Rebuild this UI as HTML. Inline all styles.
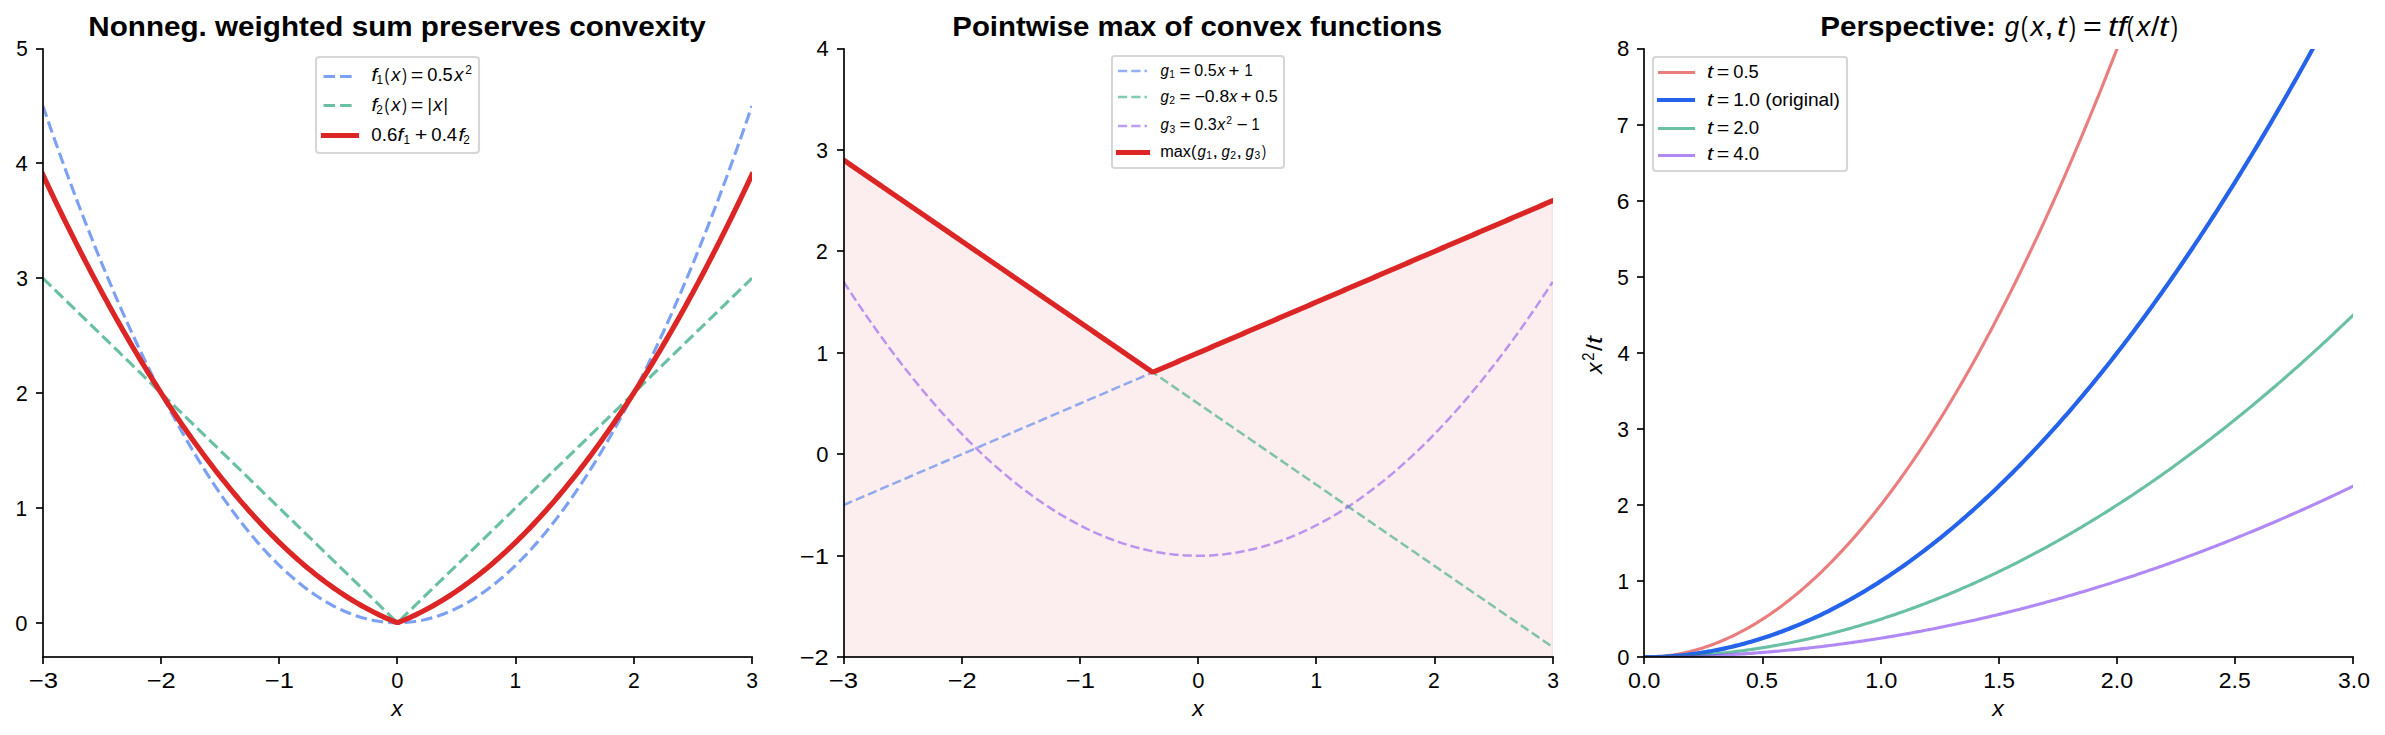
<!DOCTYPE html>
<html><head><meta charset="utf-8"><title>Operations that preserve convexity</title>
<style>
html,body{margin:0;padding:0;background:#ffffff;width:2385px;height:735px;overflow:hidden}
svg text{font-family:"Liberation Sans",sans-serif;fill:#000000}
svg path{stroke-linejoin:round}
</style>
</head><body>
<svg width="2385" height="735" viewBox="0 0 2385 735" style="display:block">
<defs><clipPath id="c0"><rect x="43" y="49" width="709" height="608"/></clipPath><clipPath id="c1"><rect x="844" y="49" width="709" height="608"/></clipPath><clipPath id="c2"><rect x="1644" y="49" width="709" height="608"/></clipPath></defs>
<rect width="2385" height="735" fill="#ffffff"/>
<path d="M43 657L43 664" fill="#000000" stroke="#000000" stroke-width="1.667"/>
<text x="28.76" y="688" font-size="22.292" textLength="29.23" lengthAdjust="spacingAndGlyphs">−3</text>
<path d="M161 657L161 664" fill="#000000" stroke="#000000" stroke-width="1.667"/>
<text x="146.77" y="688" font-size="22.292" textLength="28.95" lengthAdjust="spacingAndGlyphs">−2</text>
<path d="M279 657L279 664" fill="#000000" stroke="#000000" stroke-width="1.667"/>
<text x="264.76" y="688" font-size="22.292" textLength="29.08" lengthAdjust="spacingAndGlyphs">−1</text>
<path d="M397 657L397 664" fill="#000000" stroke="#000000" stroke-width="1.667"/>
<text x="391.14" y="688" font-size="22.292" textLength="12.21" lengthAdjust="spacingAndGlyphs">0</text>
<path d="M516 657L516 664" fill="#000000" stroke="#000000" stroke-width="1.667"/>
<text x="509.38" y="688" font-size="22.292" textLength="11.67" lengthAdjust="spacingAndGlyphs">1</text>
<path d="M634 657L634 664" fill="#000000" stroke="#000000" stroke-width="1.667"/>
<text x="627.96" y="688" font-size="22.292" textLength="11.77" lengthAdjust="spacingAndGlyphs">2</text>
<path d="M752 657L752 664" fill="#000000" stroke="#000000" stroke-width="1.667"/>
<text x="746.16" y="688" font-size="22.292" textLength="11.73" lengthAdjust="spacingAndGlyphs">3</text>
<g transform="translate(390 703)">
<text x="1.38" y="13" font-size="22.292" font-style="italic" textLength="11.45" lengthAdjust="spacingAndGlyphs">x</text>
</g>
<path d="M43 623L36 623" fill="#000000" stroke="#000000" stroke-width="1.667"/>
<text x="15.14" y="631" font-size="22.292" textLength="12.21" lengthAdjust="spacingAndGlyphs">0</text>
<path d="M43 508L36 508" fill="#000000" stroke="#000000" stroke-width="1.667"/>
<text x="15.38" y="516" font-size="22.292" textLength="11.67" lengthAdjust="spacingAndGlyphs">1</text>
<path d="M43 393L36 393" fill="#000000" stroke="#000000" stroke-width="1.667"/>
<text x="15.96" y="401" font-size="22.292" textLength="11.77" lengthAdjust="spacingAndGlyphs">2</text>
<path d="M43 278L36 278" fill="#000000" stroke="#000000" stroke-width="1.667"/>
<text x="16.16" y="286" font-size="22.292" textLength="11.73" lengthAdjust="spacingAndGlyphs">3</text>
<path d="M43 163L36 163" fill="#000000" stroke="#000000" stroke-width="1.667"/>
<text x="15.51" y="171" font-size="22.292" textLength="12.22" lengthAdjust="spacingAndGlyphs">4</text>
<path d="M43 49L36 49" fill="#000000" stroke="#000000" stroke-width="1.667"/>
<text x="16.15" y="56" font-size="22.292" textLength="11.53" lengthAdjust="spacingAndGlyphs">5</text>
<path d="M42.9 105.92L45.27 112.82L47.64 119.66L50.01 126.46L52.39 133.21L54.76 139.92L57.13 146.58L59.5 153.19L61.87 159.76L64.24 166.28L66.61 172.75L68.98 179.18L71.36 185.56L73.73 191.9L76.1 198.19L78.47 204.43L80.84 210.63L83.21 216.78L85.58 222.88L87.95 228.94L90.33 234.95L92.7 240.92L95.07 246.84L97.44 252.71L99.81 258.54L102.18 264.32L104.55 270.06L106.93 275.75L109.3 281.39L111.67 286.98L114.04 292.53L116.41 298.04L118.78 303.49L121.15 308.9L123.52 314.27L125.9 319.59L128.27 324.86L130.64 330.09L133.01 335.27L135.38 340.4L137.75 345.49L140.12 350.53L142.49 355.52L144.87 360.47L147.24 365.37L149.61 370.23L151.98 375.04L154.35 379.8L156.72 384.52L159.09 389.19L161.47 393.81L163.84 398.39L166.21 402.93L168.58 407.41L170.95 411.85L173.32 416.24L175.69 420.59L178.06 424.89L180.44 429.15L182.81 433.36L185.18 437.52L187.55 441.63L189.92 445.7L192.29 449.73L194.66 453.71L197.03 457.64L199.41 461.52L201.78 465.36L204.15 469.15L206.52 472.9L208.89 476.6L211.26 480.25L213.63 483.86L216.01 487.42L218.38 490.93L220.75 494.4L223.12 497.83L225.49 501.2L227.86 504.53L230.23 507.81L232.6 511.05L234.98 514.24L237.35 517.39L239.72 520.49L242.09 523.54L244.46 526.54L246.83 529.5L249.2 532.42L251.57 535.29L253.95 538.11L256.32 540.88L258.69 543.61L261.06 546.29L263.43 548.93L265.8 551.52L268.17 554.06L270.55 556.56L272.92 559.01L275.29 561.42L277.66 563.77L280.03 566.09L282.4 568.35L284.77 570.57L287.14 572.75L289.52 574.87L291.89 576.95L294.26 578.99L296.63 580.98L299 582.92L301.37 584.82L303.74 586.67L306.11 588.47L308.49 590.23L310.86 591.94L313.23 593.6L315.6 595.22L317.97 596.79L320.34 598.32L322.71 599.8L325.09 601.23L327.46 602.62L329.83 603.96L332.2 605.26L334.57 606.51L336.94 607.71L339.31 608.87L341.68 609.98L344.06 611.04L346.43 612.06L348.8 613.03L351.17 613.95L353.54 614.83L355.91 615.66L358.28 616.45L360.65 617.19L363.03 617.88L365.4 618.53L367.77 619.13L370.14 619.69L372.51 620.2L374.88 620.66L377.25 621.07L379.63 621.44L382 621.77L384.37 622.05L386.74 622.28L389.11 622.46L391.48 622.6L393.85 622.69L396.22 622.74L398.6 622.74L400.97 622.69L403.34 622.6L405.71 622.46L408.08 622.28L410.45 622.05L412.82 621.77L415.19 621.44L417.57 621.07L419.94 620.66L422.31 620.2L424.68 619.69L427.05 619.13L429.42 618.53L431.79 617.88L434.17 617.19L436.54 616.45L438.91 615.66L441.28 614.83L443.65 613.95L446.02 613.03L448.39 612.06L450.76 611.04L453.14 609.98L455.51 608.87L457.88 607.71L460.25 606.51L462.62 605.26L464.99 603.96L467.36 602.62L469.73 601.23L472.11 599.8L474.48 598.32L476.85 596.79L479.22 595.22L481.59 593.6L483.96 591.94L486.33 590.23L488.71 588.47L491.08 586.67L493.45 584.82L495.82 582.92L498.19 580.98L500.56 578.99L502.93 576.95L505.3 574.87L507.68 572.75L510.05 570.57L512.42 568.35L514.79 566.09L517.16 563.77L519.53 561.42L521.9 559.01L524.27 556.56L526.65 554.06L529.02 551.52L531.39 548.93L533.76 546.29L536.13 543.61L538.5 540.88L540.87 538.11L543.25 535.29L545.62 532.42L547.99 529.5L550.36 526.54L552.73 523.54L555.1 520.49L557.47 517.39L559.84 514.24L562.22 511.05L564.59 507.81L566.96 504.53L569.33 501.2L571.7 497.83L574.07 494.4L576.44 490.93L578.81 487.42L581.19 483.86L583.56 480.25L585.93 476.6L588.3 472.9L590.67 469.15L593.04 465.36L595.41 461.52L597.79 457.64L600.16 453.71L602.53 449.73L604.9 445.7L607.27 441.63L609.64 437.52L612.01 433.36L614.38 429.15L616.76 424.89L619.13 420.59L621.5 416.24L623.87 411.85L626.24 407.41L628.61 402.93L630.98 398.39L633.35 393.81L635.73 389.19L638.1 384.52L640.47 379.8L642.84 375.04L645.21 370.23L647.58 365.37L649.95 360.47L652.33 355.52L654.7 350.53L657.07 345.49L659.44 340.4L661.81 335.27L664.18 330.09L666.55 324.86L668.92 319.59L671.3 314.27L673.67 308.9L676.04 303.49L678.41 298.04L680.78 292.53L683.15 286.98L685.52 281.39L687.89 275.75L690.27 270.06L692.64 264.32L695.01 258.54L697.38 252.71L699.75 246.84L702.12 240.92L704.49 234.95L706.87 228.94L709.24 222.88L711.61 216.78L713.98 210.63L716.35 204.43L718.72 198.19L721.09 191.9L723.46 185.56L725.84 179.18L728.21 172.75L730.58 166.28L732.95 159.76L735.32 153.19L737.69 146.58L740.06 139.92L742.43 133.21L744.81 126.46L747.18 119.66L749.55 112.82L751.92 105.92" fill="none" stroke="#2563eb" stroke-opacity="0.6" stroke-width="3.125" stroke-dasharray="11.563,5" clip-path="url(#c0)"/>
<path d="M42.9 278.2L45.27 280.5L47.64 282.81L50.01 285.11L52.39 287.42L54.76 289.72L57.13 292.03L59.5 294.33L61.87 296.64L64.24 298.94L66.61 301.24L68.98 303.55L71.36 305.85L73.73 308.16L76.1 310.46L78.47 312.77L80.84 315.07L83.21 317.38L85.58 319.68L87.95 321.99L90.33 324.29L92.7 326.6L95.07 328.9L97.44 331.21L99.81 333.51L102.18 335.81L104.55 338.12L106.93 340.42L109.3 342.73L111.67 345.03L114.04 347.34L116.41 349.64L118.78 351.95L121.15 354.25L123.52 356.56L125.9 358.86L128.27 361.17L130.64 363.47L133.01 365.78L135.38 368.08L137.75 370.38L140.12 372.69L142.49 374.99L144.87 377.3L147.24 379.6L149.61 381.91L151.98 384.21L154.35 386.52L156.72 388.82L159.09 391.13L161.47 393.43L163.84 395.74L166.21 398.04L168.58 400.35L170.95 402.65L173.32 404.95L175.69 407.26L178.06 409.56L180.44 411.87L182.81 414.17L185.18 416.48L187.55 418.78L189.92 421.09L192.29 423.39L194.66 425.7L197.03 428L199.41 430.31L201.78 432.61L204.15 434.92L206.52 437.22L208.89 439.52L211.26 441.83L213.63 444.13L216.01 446.44L218.38 448.74L220.75 451.05L223.12 453.35L225.49 455.66L227.86 457.96L230.23 460.27L232.6 462.57L234.98 464.88L237.35 467.18L239.72 469.49L242.09 471.79L244.46 474.09L246.83 476.4L249.2 478.7L251.57 481.01L253.95 483.31L256.32 485.62L258.69 487.92L261.06 490.23L263.43 492.53L265.8 494.84L268.17 497.14L270.55 499.45L272.92 501.75L275.29 504.06L277.66 506.36L280.03 508.66L282.4 510.97L284.77 513.27L287.14 515.58L289.52 517.88L291.89 520.19L294.26 522.49L296.63 524.8L299 527.1L301.37 529.41L303.74 531.71L306.11 534.02L308.49 536.32L310.86 538.63L313.23 540.93L315.6 543.23L317.97 545.54L320.34 547.84L322.71 550.15L325.09 552.45L327.46 554.76L329.83 557.06L332.2 559.37L334.57 561.67L336.94 563.98L339.31 566.28L341.68 568.59L344.06 570.89L346.43 573.2L348.8 575.5L351.17 577.8L353.54 580.11L355.91 582.41L358.28 584.72L360.65 587.02L363.03 589.33L365.4 591.63L367.77 593.94L370.14 596.24L372.51 598.55L374.88 600.85L377.25 603.16L379.63 605.46L382 607.76L384.37 610.07L386.74 612.37L389.11 614.68L391.48 616.98L393.85 619.29L396.22 621.59L398.6 621.59L400.97 619.29L403.34 616.98L405.71 614.68L408.08 612.37L410.45 610.07L412.82 607.76L415.19 605.46L417.57 603.16L419.94 600.85L422.31 598.55L424.68 596.24L427.05 593.94L429.42 591.63L431.79 589.33L434.17 587.02L436.54 584.72L438.91 582.41L441.28 580.11L443.65 577.8L446.02 575.5L448.39 573.2L450.76 570.89L453.14 568.59L455.51 566.28L457.88 563.98L460.25 561.67L462.62 559.37L464.99 557.06L467.36 554.76L469.73 552.45L472.11 550.15L474.48 547.84L476.85 545.54L479.22 543.23L481.59 540.93L483.96 538.63L486.33 536.32L488.71 534.02L491.08 531.71L493.45 529.41L495.82 527.1L498.19 524.8L500.56 522.49L502.93 520.19L505.3 517.88L507.68 515.58L510.05 513.27L512.42 510.97L514.79 508.66L517.16 506.36L519.53 504.06L521.9 501.75L524.27 499.45L526.65 497.14L529.02 494.84L531.39 492.53L533.76 490.23L536.13 487.92L538.5 485.62L540.87 483.31L543.25 481.01L545.62 478.7L547.99 476.4L550.36 474.09L552.73 471.79L555.1 469.49L557.47 467.18L559.84 464.88L562.22 462.57L564.59 460.27L566.96 457.96L569.33 455.66L571.7 453.35L574.07 451.05L576.44 448.74L578.81 446.44L581.19 444.13L583.56 441.83L585.93 439.52L588.3 437.22L590.67 434.92L593.04 432.61L595.41 430.31L597.79 428L600.16 425.7L602.53 423.39L604.9 421.09L607.27 418.78L609.64 416.48L612.01 414.17L614.38 411.87L616.76 409.56L619.13 407.26L621.5 404.95L623.87 402.65L626.24 400.35L628.61 398.04L630.98 395.74L633.35 393.43L635.73 391.13L638.1 388.82L640.47 386.52L642.84 384.21L645.21 381.91L647.58 379.6L649.95 377.3L652.33 374.99L654.7 372.69L657.07 370.38L659.44 368.08L661.81 365.78L664.18 363.47L666.55 361.17L668.92 358.86L671.3 356.56L673.67 354.25L676.04 351.95L678.41 349.64L680.78 347.34L683.15 345.03L685.52 342.73L687.89 340.42L690.27 338.12L692.64 335.81L695.01 333.51L697.38 331.21L699.75 328.9L702.12 326.6L704.49 324.29L706.87 321.99L709.24 319.68L711.61 317.38L713.98 315.07L716.35 312.77L718.72 310.46L721.09 308.16L723.46 305.85L725.84 303.55L728.21 301.24L730.58 298.94L732.95 296.64L735.32 294.33L737.69 292.03L740.06 289.72L742.43 287.42L744.81 285.11L747.18 282.81L749.55 280.5L751.92 278.2" fill="none" stroke="#059669" stroke-opacity="0.6" stroke-width="3.125" stroke-dasharray="11.563,5" clip-path="url(#c0)"/>
<path d="M42.9 174.83L45.27 179.89L47.64 184.92L50.01 189.92L52.39 194.89L54.76 199.84L57.13 204.76L59.5 209.65L61.87 214.51L64.24 219.34L66.61 224.15L68.98 228.93L71.36 233.68L73.73 238.4L76.1 243.1L78.47 247.77L80.84 252.41L83.21 257.02L85.58 261.6L87.95 266.16L90.33 270.69L92.7 275.19L95.07 279.66L97.44 284.11L99.81 288.53L102.18 292.92L104.55 297.28L106.93 301.62L109.3 305.92L111.67 310.2L114.04 314.45L116.41 318.68L118.78 322.88L121.15 327.04L123.52 331.18L125.9 335.3L128.27 339.38L130.64 343.44L133.01 347.47L135.38 351.47L137.75 355.45L140.12 359.39L142.49 363.31L144.87 367.2L147.24 371.06L149.61 374.9L151.98 378.71L154.35 382.49L156.72 386.24L159.09 389.96L161.47 393.66L163.84 397.33L166.21 400.97L168.58 404.59L170.95 408.17L173.32 411.73L175.69 415.26L178.06 418.76L180.44 422.24L182.81 425.68L185.18 429.1L187.55 432.49L189.92 435.86L192.29 439.19L194.66 442.5L197.03 445.78L199.41 449.03L201.78 452.26L204.15 455.46L206.52 458.63L208.89 461.77L211.26 464.88L213.63 467.97L216.01 471.03L218.38 474.06L220.75 477.06L223.12 480.04L225.49 482.98L227.86 485.9L230.23 488.8L232.6 491.66L234.98 494.5L237.35 497.3L239.72 500.09L242.09 502.84L244.46 505.56L246.83 508.26L249.2 510.93L251.57 513.57L253.95 516.19L256.32 518.78L258.69 521.34L261.06 523.87L263.43 526.37L265.8 528.85L268.17 531.29L270.55 533.71L272.92 536.11L275.29 538.47L277.66 540.81L280.03 543.12L282.4 545.4L284.77 547.65L287.14 549.88L289.52 552.08L291.89 554.25L294.26 556.39L296.63 558.51L299 560.59L301.37 562.65L303.74 564.68L306.11 566.69L308.49 568.66L310.86 570.61L313.23 572.53L315.6 574.43L317.97 576.29L320.34 578.13L322.71 579.94L325.09 581.72L327.46 583.48L329.83 585.2L332.2 586.9L334.57 588.57L336.94 590.22L339.31 591.83L341.68 593.42L344.06 594.98L346.43 596.51L348.8 598.02L351.17 599.49L353.54 600.94L355.91 602.36L358.28 603.76L360.65 605.12L363.03 606.46L365.4 607.77L367.77 609.05L370.14 610.31L372.51 611.54L374.88 612.74L377.25 613.91L379.63 615.05L382 616.17L384.37 617.26L386.74 618.32L389.11 619.35L391.48 620.35L393.85 621.33L396.22 622.28L398.6 622.28L400.97 621.33L403.34 620.35L405.71 619.35L408.08 618.32L410.45 617.26L412.82 616.17L415.19 615.05L417.57 613.91L419.94 612.74L422.31 611.54L424.68 610.31L427.05 609.05L429.42 607.77L431.79 606.46L434.17 605.12L436.54 603.76L438.91 602.36L441.28 600.94L443.65 599.49L446.02 598.02L448.39 596.51L450.76 594.98L453.14 593.42L455.51 591.83L457.88 590.22L460.25 588.57L462.62 586.9L464.99 585.2L467.36 583.48L469.73 581.72L472.11 579.94L474.48 578.13L476.85 576.29L479.22 574.43L481.59 572.53L483.96 570.61L486.33 568.66L488.71 566.69L491.08 564.68L493.45 562.65L495.82 560.59L498.19 558.51L500.56 556.39L502.93 554.25L505.3 552.08L507.68 549.88L510.05 547.65L512.42 545.4L514.79 543.12L517.16 540.81L519.53 538.47L521.9 536.11L524.27 533.71L526.65 531.29L529.02 528.85L531.39 526.37L533.76 523.87L536.13 521.34L538.5 518.78L540.87 516.19L543.25 513.57L545.62 510.93L547.99 508.26L550.36 505.56L552.73 502.84L555.1 500.09L557.47 497.3L559.84 494.5L562.22 491.66L564.59 488.8L566.96 485.9L569.33 482.98L571.7 480.04L574.07 477.06L576.44 474.06L578.81 471.03L581.19 467.97L583.56 464.88L585.93 461.77L588.3 458.63L590.67 455.46L593.04 452.26L595.41 449.03L597.79 445.78L600.16 442.5L602.53 439.19L604.9 435.86L607.27 432.49L609.64 429.1L612.01 425.68L614.38 422.24L616.76 418.76L619.13 415.26L621.5 411.73L623.87 408.17L626.24 404.59L628.61 400.97L630.98 397.33L633.35 393.66L635.73 389.96L638.1 386.24L640.47 382.49L642.84 378.71L645.21 374.9L647.58 371.06L649.95 367.2L652.33 363.31L654.7 359.39L657.07 355.45L659.44 351.47L661.81 347.47L664.18 343.44L666.55 339.38L668.92 335.3L671.3 331.18L673.67 327.04L676.04 322.88L678.41 318.68L680.78 314.45L683.15 310.2L685.52 305.92L687.89 301.62L690.27 297.28L692.64 292.92L695.01 288.53L697.38 284.11L699.75 279.66L702.12 275.19L704.49 270.69L706.87 266.16L709.24 261.6L711.61 257.02L713.98 252.41L716.35 247.77L718.72 243.1L721.09 238.4L723.46 233.68L725.84 228.93L728.21 224.15L730.58 219.34L732.95 214.51L735.32 209.65L737.69 204.76L740.06 199.84L742.43 194.89L744.81 189.92L747.18 184.92L749.55 179.89L751.92 174.83" fill="none" stroke="#dc2626" stroke-width="5.208" stroke-linecap="square" clip-path="url(#c0)"/>
<rect x="42.167" y="48.167" width="1.667" height="609.667" fill="#000000"/>
<rect x="42.167" y="656.167" width="710.667" height="1.667" fill="#000000"/>
<text x="88.31" y="36" font-size="26.75" font-weight="bold" textLength="617.56" lengthAdjust="spacingAndGlyphs">Nonneg. weighted sum preserves convexity</text>
<path d="M320 153L475 153Q479 153 479 150L479 60Q479 57 475 57L320 57Q316 57 316 60L316 150Q316 153 320 153Z" fill="#ffffff" fill-opacity="0.8" stroke="#cccccc" stroke-opacity="0.8" stroke-width="2.083" stroke-linejoin="miter"/>
<path d="M323.5 76.5L340.5 76.5L356.5 76.5" fill="none" stroke="#2563eb" stroke-opacity="0.6" stroke-width="3.125" stroke-dasharray="11.563,5"/>
<g transform="translate(370 64)">
<text x="1.43" y="17" font-size="17.833" font-style="italic" textLength="5.75" lengthAdjust="spacingAndGlyphs">f</text>
<text x="6.39" y="20" font-size="12.483" textLength="6.53" lengthAdjust="spacingAndGlyphs">1</text>
<text x="14.56" y="17" font-size="17.833" textLength="4.69" lengthAdjust="spacingAndGlyphs">(</text>
<text x="21.3" y="17" font-size="17.833" font-style="italic" textLength="9.16" lengthAdjust="spacingAndGlyphs">x</text>
<text x="32.25" y="17" font-size="17.833" textLength="4.69" lengthAdjust="spacingAndGlyphs">)</text>
<text x="40.72" y="17" font-size="17.833" textLength="12.54" lengthAdjust="spacingAndGlyphs">=</text>
<text x="57.38" y="17" font-size="17.833" textLength="25.43" lengthAdjust="spacingAndGlyphs">0.5</text>
<text x="84.3" y="17" font-size="17.833" font-style="italic" textLength="9.16" lengthAdjust="spacingAndGlyphs">x</text>
<text x="95.26" y="10" font-size="12.483" textLength="6.59" lengthAdjust="spacingAndGlyphs">2</text>
</g>
<path d="M323.5 105.5L340.5 105.5L356.5 105.5" fill="none" stroke="#059669" stroke-opacity="0.6" stroke-width="3.125" stroke-dasharray="11.563,5"/>
<g transform="translate(370 96)">
<text x="1.43" y="15" font-size="17.833" font-style="italic" textLength="5.75" lengthAdjust="spacingAndGlyphs">f</text>
<text x="6.26" y="18" font-size="12.483" textLength="6.59" lengthAdjust="spacingAndGlyphs">2</text>
<text x="14.56" y="15" font-size="17.833" textLength="4.69" lengthAdjust="spacingAndGlyphs">(</text>
<text x="21.3" y="15" font-size="17.833" font-style="italic" textLength="9.16" lengthAdjust="spacingAndGlyphs">x</text>
<text x="32.25" y="15" font-size="17.833" textLength="4.69" lengthAdjust="spacingAndGlyphs">)</text>
<text x="40.72" y="15" font-size="17.833" textLength="12.54" lengthAdjust="spacingAndGlyphs">=</text>
<text x="57.59" y="15" font-size="17.833" textLength="4.43" lengthAdjust="spacingAndGlyphs">|</text>
<text x="63.3" y="15" font-size="17.833" font-style="italic" textLength="9.16" lengthAdjust="spacingAndGlyphs">x</text>
<text x="73.59" y="15" font-size="17.833" textLength="4.43" lengthAdjust="spacingAndGlyphs">|</text>
</g>
<path d="M323.5 135.5L340.5 135.5L356.5 135.5" fill="none" stroke="#dc2626" stroke-width="5.208" stroke-linecap="square"/>
<g transform="translate(370 126)">
<text x="1.37" y="15" font-size="17.833" textLength="25.9" lengthAdjust="spacingAndGlyphs">0.6</text>
<text x="27.43" y="15" font-size="17.833" font-style="italic" textLength="5.75" lengthAdjust="spacingAndGlyphs">f</text>
<text x="33.39" y="18" font-size="12.483" textLength="6.53" lengthAdjust="spacingAndGlyphs">1</text>
<text x="44.72" y="15" font-size="17.833" textLength="12.54" lengthAdjust="spacingAndGlyphs">+</text>
<text x="61.38" y="15" font-size="17.833" textLength="25.74" lengthAdjust="spacingAndGlyphs">0.4</text>
<text x="88.43" y="15" font-size="17.833" font-style="italic" textLength="5.75" lengthAdjust="spacingAndGlyphs">f</text>
<text x="93.26" y="18" font-size="12.483" textLength="6.59" lengthAdjust="spacingAndGlyphs">2</text>
</g>
<path d="M843.67 657.2L843.67 160.1L846.05 161.72L848.42 163.35L850.79 164.98L853.16 166.61L855.53 168.24L857.9 169.87L860.27 171.5L862.65 173.12L865.02 174.75L867.39 176.38L869.76 178.01L872.13 179.64L874.5 181.27L876.87 182.9L879.24 184.52L881.62 186.15L883.99 187.78L886.36 189.41L888.73 191.04L891.1 192.67L893.47 194.3L895.84 195.92L898.21 197.55L900.59 199.18L902.96 200.81L905.33 202.44L907.7 204.07L910.07 205.7L912.44 207.33L914.81 208.95L917.19 210.58L919.56 212.21L921.93 213.84L924.3 215.47L926.67 217.1L929.04 218.73L931.41 220.35L933.78 221.98L936.16 223.61L938.53 225.24L940.9 226.87L943.27 228.5L945.64 230.13L948.01 231.75L950.38 233.38L952.75 235.01L955.13 236.64L957.5 238.27L959.87 239.9L962.24 241.53L964.61 243.16L966.98 244.78L969.35 246.41L971.73 248.04L974.1 249.67L976.47 251.3L978.84 252.93L981.21 254.56L983.58 256.18L985.95 257.81L988.32 259.44L990.7 261.07L993.07 262.7L995.44 264.33L997.81 265.96L1000.18 267.58L1002.55 269.21L1004.92 270.84L1007.29 272.47L1009.67 274.1L1012.04 275.73L1014.41 277.36L1016.78 278.98L1019.15 280.61L1021.52 282.24L1023.89 283.87L1026.27 285.5L1028.64 287.13L1031.01 288.76L1033.38 290.39L1035.75 292.01L1038.12 293.64L1040.49 295.27L1042.86 296.9L1045.24 298.53L1047.61 300.16L1049.98 301.79L1052.35 303.41L1054.72 305.04L1057.09 306.67L1059.46 308.3L1061.84 309.93L1064.21 311.56L1066.58 313.19L1068.95 314.81L1071.32 316.44L1073.69 318.07L1076.06 319.7L1078.43 321.33L1080.81 322.96L1083.18 324.59L1085.55 326.22L1087.92 327.84L1090.29 329.47L1092.66 331.1L1095.03 332.73L1097.4 334.36L1099.78 335.99L1102.15 337.62L1104.52 339.24L1106.89 340.87L1109.26 342.5L1111.63 344.13L1114 345.76L1116.38 347.39L1118.75 349.02L1121.12 350.64L1123.49 352.27L1125.86 353.9L1128.23 355.53L1130.6 357.16L1132.97 358.79L1135.35 360.42L1137.72 362.04L1140.09 363.67L1142.46 365.3L1144.83 366.93L1147.2 368.56L1149.57 370.19L1151.94 371.82L1154.32 371.68L1156.69 370.66L1159.06 369.65L1161.43 368.63L1163.8 367.61L1166.17 366.59L1168.54 365.57L1170.91 364.56L1173.29 363.54L1175.66 362.52L1178.03 361.5L1180.4 360.48L1182.77 359.47L1185.14 358.45L1187.51 357.43L1189.89 356.41L1192.26 355.39L1194.63 354.38L1197 353.36L1199.37 352.34L1201.74 351.32L1204.11 350.31L1206.48 349.29L1208.86 348.27L1211.23 347.25L1213.6 346.23L1215.97 345.22L1218.34 344.2L1220.71 343.18L1223.08 342.16L1225.45 341.14L1227.83 340.13L1230.2 339.11L1232.57 338.09L1234.94 337.07L1237.31 336.05L1239.68 335.04L1242.05 334.02L1244.43 333L1246.8 331.98L1249.17 330.97L1251.54 329.95L1253.91 328.93L1256.28 327.91L1258.65 326.89L1261.02 325.88L1263.4 324.86L1265.77 323.84L1268.14 322.82L1270.51 321.8L1272.88 320.79L1275.25 319.77L1277.62 318.75L1279.99 317.73L1282.37 316.71L1284.74 315.7L1287.11 314.68L1289.48 313.66L1291.85 312.64L1294.22 311.63L1296.59 310.61L1298.97 309.59L1301.34 308.57L1303.71 307.55L1306.08 306.54L1308.45 305.52L1310.82 304.5L1313.19 303.48L1315.56 302.46L1317.94 301.45L1320.31 300.43L1322.68 299.41L1325.05 298.39L1327.42 297.37L1329.79 296.36L1332.16 295.34L1334.53 294.32L1336.91 293.3L1339.28 292.29L1341.65 291.27L1344.02 290.25L1346.39 289.23L1348.76 288.21L1351.13 287.2L1353.51 286.18L1355.88 285.16L1358.25 284.14L1360.62 283.12L1362.99 282.11L1365.36 281.09L1367.73 280.07L1370.1 279.05L1372.48 278.03L1374.85 277.02L1377.22 276L1379.59 274.98L1381.96 273.96L1384.33 272.95L1386.7 271.93L1389.08 270.91L1391.45 269.89L1393.82 268.87L1396.19 267.86L1398.56 266.84L1400.93 265.82L1403.3 264.8L1405.67 263.78L1408.05 262.77L1410.42 261.75L1412.79 260.73L1415.16 259.71L1417.53 258.69L1419.9 257.68L1422.27 256.66L1424.64 255.64L1427.02 254.62L1429.39 253.61L1431.76 252.59L1434.13 251.57L1436.5 250.55L1438.87 249.53L1441.24 248.52L1443.61 247.5L1445.99 246.48L1448.36 245.46L1450.73 244.44L1453.1 243.43L1455.47 242.41L1457.84 241.39L1460.21 240.37L1462.59 239.35L1464.96 238.34L1467.33 237.32L1469.7 236.3L1472.07 235.28L1474.44 234.27L1476.81 233.25L1479.18 232.23L1481.56 231.21L1483.93 230.19L1486.3 229.18L1488.67 228.16L1491.04 227.14L1493.41 226.12L1495.78 225.1L1498.15 224.09L1500.53 223.07L1502.9 222.05L1505.27 221.03L1507.64 220.01L1510.01 219L1512.38 217.98L1514.75 216.96L1517.13 215.94L1519.5 214.93L1521.87 213.91L1524.24 212.89L1526.61 211.87L1528.98 210.85L1531.35 209.84L1533.72 208.82L1536.1 207.8L1538.47 206.78L1540.84 205.76L1543.21 204.75L1545.58 203.73L1547.95 202.71L1550.32 201.69L1552.69 200.68L1552.69 657.2L1552.69 657.2L1550.32 657.2L1547.95 657.2L1545.58 657.2L1543.21 657.2L1540.84 657.2L1538.47 657.2L1536.1 657.2L1533.72 657.2L1531.35 657.2L1528.98 657.2L1526.61 657.2L1524.24 657.2L1521.87 657.2L1519.5 657.2L1517.13 657.2L1514.75 657.2L1512.38 657.2L1510.01 657.2L1507.64 657.2L1505.27 657.2L1502.9 657.2L1500.53 657.2L1498.15 657.2L1495.78 657.2L1493.41 657.2L1491.04 657.2L1488.67 657.2L1486.3 657.2L1483.93 657.2L1481.56 657.2L1479.18 657.2L1476.81 657.2L1474.44 657.2L1472.07 657.2L1469.7 657.2L1467.33 657.2L1464.96 657.2L1462.59 657.2L1460.21 657.2L1457.84 657.2L1455.47 657.2L1453.1 657.2L1450.73 657.2L1448.36 657.2L1445.99 657.2L1443.61 657.2L1441.24 657.2L1438.87 657.2L1436.5 657.2L1434.13 657.2L1431.76 657.2L1429.39 657.2L1427.02 657.2L1424.64 657.2L1422.27 657.2L1419.9 657.2L1417.53 657.2L1415.16 657.2L1412.79 657.2L1410.42 657.2L1408.05 657.2L1405.67 657.2L1403.3 657.2L1400.93 657.2L1398.56 657.2L1396.19 657.2L1393.82 657.2L1391.45 657.2L1389.08 657.2L1386.7 657.2L1384.33 657.2L1381.96 657.2L1379.59 657.2L1377.22 657.2L1374.85 657.2L1372.48 657.2L1370.1 657.2L1367.73 657.2L1365.36 657.2L1362.99 657.2L1360.62 657.2L1358.25 657.2L1355.88 657.2L1353.51 657.2L1351.13 657.2L1348.76 657.2L1346.39 657.2L1344.02 657.2L1341.65 657.2L1339.28 657.2L1336.91 657.2L1334.53 657.2L1332.16 657.2L1329.79 657.2L1327.42 657.2L1325.05 657.2L1322.68 657.2L1320.31 657.2L1317.94 657.2L1315.56 657.2L1313.19 657.2L1310.82 657.2L1308.45 657.2L1306.08 657.2L1303.71 657.2L1301.34 657.2L1298.97 657.2L1296.59 657.2L1294.22 657.2L1291.85 657.2L1289.48 657.2L1287.11 657.2L1284.74 657.2L1282.37 657.2L1279.99 657.2L1277.62 657.2L1275.25 657.2L1272.88 657.2L1270.51 657.2L1268.14 657.2L1265.77 657.2L1263.4 657.2L1261.02 657.2L1258.65 657.2L1256.28 657.2L1253.91 657.2L1251.54 657.2L1249.17 657.2L1246.8 657.2L1244.43 657.2L1242.05 657.2L1239.68 657.2L1237.31 657.2L1234.94 657.2L1232.57 657.2L1230.2 657.2L1227.83 657.2L1225.45 657.2L1223.08 657.2L1220.71 657.2L1218.34 657.2L1215.97 657.2L1213.6 657.2L1211.23 657.2L1208.86 657.2L1206.48 657.2L1204.11 657.2L1201.74 657.2L1199.37 657.2L1197 657.2L1194.63 657.2L1192.26 657.2L1189.89 657.2L1187.51 657.2L1185.14 657.2L1182.77 657.2L1180.4 657.2L1178.03 657.2L1175.66 657.2L1173.29 657.2L1170.91 657.2L1168.54 657.2L1166.17 657.2L1163.8 657.2L1161.43 657.2L1159.06 657.2L1156.69 657.2L1154.32 657.2L1151.94 657.2L1149.57 657.2L1147.2 657.2L1144.83 657.2L1142.46 657.2L1140.09 657.2L1137.72 657.2L1135.35 657.2L1132.97 657.2L1130.6 657.2L1128.23 657.2L1125.86 657.2L1123.49 657.2L1121.12 657.2L1118.75 657.2L1116.38 657.2L1114 657.2L1111.63 657.2L1109.26 657.2L1106.89 657.2L1104.52 657.2L1102.15 657.2L1099.78 657.2L1097.4 657.2L1095.03 657.2L1092.66 657.2L1090.29 657.2L1087.92 657.2L1085.55 657.2L1083.18 657.2L1080.81 657.2L1078.43 657.2L1076.06 657.2L1073.69 657.2L1071.32 657.2L1068.95 657.2L1066.58 657.2L1064.21 657.2L1061.84 657.2L1059.46 657.2L1057.09 657.2L1054.72 657.2L1052.35 657.2L1049.98 657.2L1047.61 657.2L1045.24 657.2L1042.86 657.2L1040.49 657.2L1038.12 657.2L1035.75 657.2L1033.38 657.2L1031.01 657.2L1028.64 657.2L1026.27 657.2L1023.89 657.2L1021.52 657.2L1019.15 657.2L1016.78 657.2L1014.41 657.2L1012.04 657.2L1009.67 657.2L1007.29 657.2L1004.92 657.2L1002.55 657.2L1000.18 657.2L997.81 657.2L995.44 657.2L993.07 657.2L990.7 657.2L988.32 657.2L985.95 657.2L983.58 657.2L981.21 657.2L978.84 657.2L976.47 657.2L974.1 657.2L971.73 657.2L969.35 657.2L966.98 657.2L964.61 657.2L962.24 657.2L959.87 657.2L957.5 657.2L955.13 657.2L952.75 657.2L950.38 657.2L948.01 657.2L945.64 657.2L943.27 657.2L940.9 657.2L938.53 657.2L936.16 657.2L933.78 657.2L931.41 657.2L929.04 657.2L926.67 657.2L924.3 657.2L921.93 657.2L919.56 657.2L917.19 657.2L914.81 657.2L912.44 657.2L910.07 657.2L907.7 657.2L905.33 657.2L902.96 657.2L900.59 657.2L898.21 657.2L895.84 657.2L893.47 657.2L891.1 657.2L888.73 657.2L886.36 657.2L883.99 657.2L881.62 657.2L879.24 657.2L876.87 657.2L874.5 657.2L872.13 657.2L869.76 657.2L867.39 657.2L865.02 657.2L862.65 657.2L860.27 657.2L857.9 657.2L855.53 657.2L853.16 657.2L850.79 657.2L848.42 657.2L846.05 657.2L843.67 657.2L843.67 657.2Z" fill="#dc2626" fill-opacity="0.08" stroke="#dc2626" stroke-opacity="0.08" stroke-width="2.083" clip-path="url(#c1)"/>
<path d="M844 657L844 664" fill="#000000" stroke="#000000" stroke-width="1.667"/>
<text x="828.76" y="688" font-size="22.292" textLength="29.23" lengthAdjust="spacingAndGlyphs">−3</text>
<path d="M962 657L962 664" fill="#000000" stroke="#000000" stroke-width="1.667"/>
<text x="947.77" y="688" font-size="22.292" textLength="28.95" lengthAdjust="spacingAndGlyphs">−2</text>
<path d="M1080 657L1080 664" fill="#000000" stroke="#000000" stroke-width="1.667"/>
<text x="1065.76" y="688" font-size="22.292" textLength="29.08" lengthAdjust="spacingAndGlyphs">−1</text>
<path d="M1198 657L1198 664" fill="#000000" stroke="#000000" stroke-width="1.667"/>
<text x="1192.14" y="688" font-size="22.292" textLength="12.21" lengthAdjust="spacingAndGlyphs">0</text>
<path d="M1316 657L1316 664" fill="#000000" stroke="#000000" stroke-width="1.667"/>
<text x="1310.38" y="688" font-size="22.292" textLength="11.67" lengthAdjust="spacingAndGlyphs">1</text>
<path d="M1435 657L1435 664" fill="#000000" stroke="#000000" stroke-width="1.667"/>
<text x="1427.96" y="688" font-size="22.292" textLength="11.77" lengthAdjust="spacingAndGlyphs">2</text>
<path d="M1553 657L1553 664" fill="#000000" stroke="#000000" stroke-width="1.667"/>
<text x="1547.16" y="688" font-size="22.292" textLength="11.73" lengthAdjust="spacingAndGlyphs">3</text>
<g transform="translate(1191 703)">
<text x="1.38" y="13" font-size="22.292" font-style="italic" textLength="11.45" lengthAdjust="spacingAndGlyphs">x</text>
</g>
<path d="M844 657L837 657" fill="#000000" stroke="#000000" stroke-width="1.667"/>
<text x="799.77" y="665" font-size="22.292" textLength="28.95" lengthAdjust="spacingAndGlyphs">−2</text>
<path d="M844 556L837 556" fill="#000000" stroke="#000000" stroke-width="1.667"/>
<text x="799.76" y="564" font-size="22.292" textLength="29.08" lengthAdjust="spacingAndGlyphs">−1</text>
<path d="M844 454L837 454" fill="#000000" stroke="#000000" stroke-width="1.667"/>
<text x="816.14" y="462" font-size="22.292" textLength="12.21" lengthAdjust="spacingAndGlyphs">0</text>
<path d="M844 353L837 353" fill="#000000" stroke="#000000" stroke-width="1.667"/>
<text x="816.38" y="361" font-size="22.292" textLength="11.67" lengthAdjust="spacingAndGlyphs">1</text>
<path d="M844 251L837 251" fill="#000000" stroke="#000000" stroke-width="1.667"/>
<text x="815.96" y="259" font-size="22.292" textLength="11.77" lengthAdjust="spacingAndGlyphs">2</text>
<path d="M844 150L837 150" fill="#000000" stroke="#000000" stroke-width="1.667"/>
<text x="816.16" y="158" font-size="22.292" textLength="11.73" lengthAdjust="spacingAndGlyphs">3</text>
<path d="M844 49L837 49" fill="#000000" stroke="#000000" stroke-width="1.667"/>
<text x="816.51" y="56" font-size="22.292" textLength="12.22" lengthAdjust="spacingAndGlyphs">4</text>
<path d="M843.67 505.03L846.05 504.01L848.42 502.99L850.79 501.97L853.16 500.95L855.53 499.94L857.9 498.92L860.27 497.9L862.65 496.88L865.02 495.86L867.39 494.85L869.76 493.83L872.13 492.81L874.5 491.79L876.87 490.77L879.24 489.76L881.62 488.74L883.99 487.72L886.36 486.7L888.73 485.69L891.1 484.67L893.47 483.65L895.84 482.63L898.21 481.61L900.59 480.6L902.96 479.58L905.33 478.56L907.7 477.54L910.07 476.52L912.44 475.51L914.81 474.49L917.19 473.47L919.56 472.45L921.93 471.43L924.3 470.42L926.67 469.4L929.04 468.38L931.41 467.36L933.78 466.35L936.16 465.33L938.53 464.31L940.9 463.29L943.27 462.27L945.64 461.26L948.01 460.24L950.38 459.22L952.75 458.2L955.13 457.18L957.5 456.17L959.87 455.15L962.24 454.13L964.61 453.11L966.98 452.09L969.35 451.08L971.73 450.06L974.1 449.04L976.47 448.02L978.84 447.01L981.21 445.99L983.58 444.97L985.95 443.95L988.32 442.93L990.7 441.92L993.07 440.9L995.44 439.88L997.81 438.86L1000.18 437.84L1002.55 436.83L1004.92 435.81L1007.29 434.79L1009.67 433.77L1012.04 432.75L1014.41 431.74L1016.78 430.72L1019.15 429.7L1021.52 428.68L1023.89 427.67L1026.27 426.65L1028.64 425.63L1031.01 424.61L1033.38 423.59L1035.75 422.58L1038.12 421.56L1040.49 420.54L1042.86 419.52L1045.24 418.5L1047.61 417.49L1049.98 416.47L1052.35 415.45L1054.72 414.43L1057.09 413.41L1059.46 412.4L1061.84 411.38L1064.21 410.36L1066.58 409.34L1068.95 408.33L1071.32 407.31L1073.69 406.29L1076.06 405.27L1078.43 404.25L1080.81 403.24L1083.18 402.22L1085.55 401.2L1087.92 400.18L1090.29 399.16L1092.66 398.15L1095.03 397.13L1097.4 396.11L1099.78 395.09L1102.15 394.07L1104.52 393.06L1106.89 392.04L1109.26 391.02L1111.63 390L1114 388.99L1116.38 387.97L1118.75 386.95L1121.12 385.93L1123.49 384.91L1125.86 383.9L1128.23 382.88L1130.6 381.86L1132.97 380.84L1135.35 379.82L1137.72 378.81L1140.09 377.79L1142.46 376.77L1144.83 375.75L1147.2 374.73L1149.57 373.72L1151.94 372.7L1154.32 371.68L1156.69 370.66L1159.06 369.65L1161.43 368.63L1163.8 367.61L1166.17 366.59L1168.54 365.57L1170.91 364.56L1173.29 363.54L1175.66 362.52L1178.03 361.5L1180.4 360.48L1182.77 359.47L1185.14 358.45L1187.51 357.43L1189.89 356.41L1192.26 355.39L1194.63 354.38L1197 353.36L1199.37 352.34L1201.74 351.32L1204.11 350.31L1206.48 349.29L1208.86 348.27L1211.23 347.25L1213.6 346.23L1215.97 345.22L1218.34 344.2L1220.71 343.18L1223.08 342.16L1225.45 341.14L1227.83 340.13L1230.2 339.11L1232.57 338.09L1234.94 337.07L1237.31 336.05L1239.68 335.04L1242.05 334.02L1244.43 333L1246.8 331.98L1249.17 330.97L1251.54 329.95L1253.91 328.93L1256.28 327.91L1258.65 326.89L1261.02 325.88L1263.4 324.86L1265.77 323.84L1268.14 322.82L1270.51 321.8L1272.88 320.79L1275.25 319.77L1277.62 318.75L1279.99 317.73L1282.37 316.71L1284.74 315.7L1287.11 314.68L1289.48 313.66L1291.85 312.64L1294.22 311.63L1296.59 310.61L1298.97 309.59L1301.34 308.57L1303.71 307.55L1306.08 306.54L1308.45 305.52L1310.82 304.5L1313.19 303.48L1315.56 302.46L1317.94 301.45L1320.31 300.43L1322.68 299.41L1325.05 298.39L1327.42 297.37L1329.79 296.36L1332.16 295.34L1334.53 294.32L1336.91 293.3L1339.28 292.29L1341.65 291.27L1344.02 290.25L1346.39 289.23L1348.76 288.21L1351.13 287.2L1353.51 286.18L1355.88 285.16L1358.25 284.14L1360.62 283.12L1362.99 282.11L1365.36 281.09L1367.73 280.07L1370.1 279.05L1372.48 278.03L1374.85 277.02L1377.22 276L1379.59 274.98L1381.96 273.96L1384.33 272.95L1386.7 271.93L1389.08 270.91L1391.45 269.89L1393.82 268.87L1396.19 267.86L1398.56 266.84L1400.93 265.82L1403.3 264.8L1405.67 263.78L1408.05 262.77L1410.42 261.75L1412.79 260.73L1415.16 259.71L1417.53 258.69L1419.9 257.68L1422.27 256.66L1424.64 255.64L1427.02 254.62L1429.39 253.61L1431.76 252.59L1434.13 251.57L1436.5 250.55L1438.87 249.53L1441.24 248.52L1443.61 247.5L1445.99 246.48L1448.36 245.46L1450.73 244.44L1453.1 243.43L1455.47 242.41L1457.84 241.39L1460.21 240.37L1462.59 239.35L1464.96 238.34L1467.33 237.32L1469.7 236.3L1472.07 235.28L1474.44 234.27L1476.81 233.25L1479.18 232.23L1481.56 231.21L1483.93 230.19L1486.3 229.18L1488.67 228.16L1491.04 227.14L1493.41 226.12L1495.78 225.1L1498.15 224.09L1500.53 223.07L1502.9 222.05L1505.27 221.03L1507.64 220.01L1510.01 219L1512.38 217.98L1514.75 216.96L1517.13 215.94L1519.5 214.93L1521.87 213.91L1524.24 212.89L1526.61 211.87L1528.98 210.85L1531.35 209.84L1533.72 208.82L1536.1 207.8L1538.47 206.78L1540.84 205.76L1543.21 204.75L1545.58 203.73L1547.95 202.71L1550.32 201.69L1552.69 200.68" fill="none" stroke="#2563eb" stroke-opacity="0.5" stroke-width="2.5" stroke-dasharray="9.25,4" clip-path="url(#c1)"/>
<path d="M843.67 160.1L846.05 161.72L848.42 163.35L850.79 164.98L853.16 166.61L855.53 168.24L857.9 169.87L860.27 171.5L862.65 173.12L865.02 174.75L867.39 176.38L869.76 178.01L872.13 179.64L874.5 181.27L876.87 182.9L879.24 184.52L881.62 186.15L883.99 187.78L886.36 189.41L888.73 191.04L891.1 192.67L893.47 194.3L895.84 195.92L898.21 197.55L900.59 199.18L902.96 200.81L905.33 202.44L907.7 204.07L910.07 205.7L912.44 207.33L914.81 208.95L917.19 210.58L919.56 212.21L921.93 213.84L924.3 215.47L926.67 217.1L929.04 218.73L931.41 220.35L933.78 221.98L936.16 223.61L938.53 225.24L940.9 226.87L943.27 228.5L945.64 230.13L948.01 231.75L950.38 233.38L952.75 235.01L955.13 236.64L957.5 238.27L959.87 239.9L962.24 241.53L964.61 243.16L966.98 244.78L969.35 246.41L971.73 248.04L974.1 249.67L976.47 251.3L978.84 252.93L981.21 254.56L983.58 256.18L985.95 257.81L988.32 259.44L990.7 261.07L993.07 262.7L995.44 264.33L997.81 265.96L1000.18 267.58L1002.55 269.21L1004.92 270.84L1007.29 272.47L1009.67 274.1L1012.04 275.73L1014.41 277.36L1016.78 278.98L1019.15 280.61L1021.52 282.24L1023.89 283.87L1026.27 285.5L1028.64 287.13L1031.01 288.76L1033.38 290.39L1035.75 292.01L1038.12 293.64L1040.49 295.27L1042.86 296.9L1045.24 298.53L1047.61 300.16L1049.98 301.79L1052.35 303.41L1054.72 305.04L1057.09 306.67L1059.46 308.3L1061.84 309.93L1064.21 311.56L1066.58 313.19L1068.95 314.81L1071.32 316.44L1073.69 318.07L1076.06 319.7L1078.43 321.33L1080.81 322.96L1083.18 324.59L1085.55 326.22L1087.92 327.84L1090.29 329.47L1092.66 331.1L1095.03 332.73L1097.4 334.36L1099.78 335.99L1102.15 337.62L1104.52 339.24L1106.89 340.87L1109.26 342.5L1111.63 344.13L1114 345.76L1116.38 347.39L1118.75 349.02L1121.12 350.64L1123.49 352.27L1125.86 353.9L1128.23 355.53L1130.6 357.16L1132.97 358.79L1135.35 360.42L1137.72 362.04L1140.09 363.67L1142.46 365.3L1144.83 366.93L1147.2 368.56L1149.57 370.19L1151.94 371.82L1154.32 373.45L1156.69 375.07L1159.06 376.7L1161.43 378.33L1163.8 379.96L1166.17 381.59L1168.54 383.22L1170.91 384.85L1173.29 386.47L1175.66 388.1L1178.03 389.73L1180.4 391.36L1182.77 392.99L1185.14 394.62L1187.51 396.25L1189.89 397.87L1192.26 399.5L1194.63 401.13L1197 402.76L1199.37 404.39L1201.74 406.02L1204.11 407.65L1206.48 409.28L1208.86 410.9L1211.23 412.53L1213.6 414.16L1215.97 415.79L1218.34 417.42L1220.71 419.05L1223.08 420.68L1225.45 422.3L1227.83 423.93L1230.2 425.56L1232.57 427.19L1234.94 428.82L1237.31 430.45L1239.68 432.08L1242.05 433.7L1244.43 435.33L1246.8 436.96L1249.17 438.59L1251.54 440.22L1253.91 441.85L1256.28 443.48L1258.65 445.11L1261.02 446.73L1263.4 448.36L1265.77 449.99L1268.14 451.62L1270.51 453.25L1272.88 454.88L1275.25 456.51L1277.62 458.13L1279.99 459.76L1282.37 461.39L1284.74 463.02L1287.11 464.65L1289.48 466.28L1291.85 467.91L1294.22 469.53L1296.59 471.16L1298.97 472.79L1301.34 474.42L1303.71 476.05L1306.08 477.68L1308.45 479.31L1310.82 480.93L1313.19 482.56L1315.56 484.19L1317.94 485.82L1320.31 487.45L1322.68 489.08L1325.05 490.71L1327.42 492.34L1329.79 493.96L1332.16 495.59L1334.53 497.22L1336.91 498.85L1339.28 500.48L1341.65 502.11L1344.02 503.74L1346.39 505.36L1348.76 506.99L1351.13 508.62L1353.51 510.25L1355.88 511.88L1358.25 513.51L1360.62 515.14L1362.99 516.76L1365.36 518.39L1367.73 520.02L1370.1 521.65L1372.48 523.28L1374.85 524.91L1377.22 526.54L1379.59 528.17L1381.96 529.79L1384.33 531.42L1386.7 533.05L1389.08 534.68L1391.45 536.31L1393.82 537.94L1396.19 539.57L1398.56 541.19L1400.93 542.82L1403.3 544.45L1405.67 546.08L1408.05 547.71L1410.42 549.34L1412.79 550.97L1415.16 552.59L1417.53 554.22L1419.9 555.85L1422.27 557.48L1424.64 559.11L1427.02 560.74L1429.39 562.37L1431.76 563.99L1434.13 565.62L1436.5 567.25L1438.87 568.88L1441.24 570.51L1443.61 572.14L1445.99 573.77L1448.36 575.4L1450.73 577.02L1453.1 578.65L1455.47 580.28L1457.84 581.91L1460.21 583.54L1462.59 585.17L1464.96 586.8L1467.33 588.42L1469.7 590.05L1472.07 591.68L1474.44 593.31L1476.81 594.94L1479.18 596.57L1481.56 598.2L1483.93 599.82L1486.3 601.45L1488.67 603.08L1491.04 604.71L1493.41 606.34L1495.78 607.97L1498.15 609.6L1500.53 611.23L1502.9 612.85L1505.27 614.48L1507.64 616.11L1510.01 617.74L1512.38 619.37L1514.75 621L1517.13 622.63L1519.5 624.25L1521.87 625.88L1524.24 627.51L1526.61 629.14L1528.98 630.77L1531.35 632.4L1533.72 634.03L1536.1 635.65L1538.47 637.28L1540.84 638.91L1543.21 640.54L1545.58 642.17L1547.95 643.8L1550.32 645.43L1552.69 647.06" fill="none" stroke="#059669" stroke-opacity="0.5" stroke-width="2.5" stroke-dasharray="9.25,4" clip-path="url(#c1)"/>
<path d="M843.67 281.84L846.05 285.49L848.42 289.11L850.79 292.72L853.16 296.3L855.53 299.85L857.9 303.38L860.27 306.89L862.65 310.37L865.02 313.82L867.39 317.25L869.76 320.66L872.13 324.04L874.5 327.4L876.87 330.73L879.24 334.04L881.62 337.33L883.99 340.59L886.36 343.82L888.73 347.03L891.1 350.22L893.47 353.38L895.84 356.52L898.21 359.63L900.59 362.72L902.96 365.79L905.33 368.83L907.7 371.84L910.07 374.83L912.44 377.8L914.81 380.74L917.19 383.65L919.56 386.55L921.93 389.41L924.3 392.26L926.67 395.08L929.04 397.87L931.41 400.64L933.78 403.39L936.16 406.11L938.53 408.8L940.9 411.47L943.27 414.12L945.64 416.74L948.01 419.34L950.38 421.92L952.75 424.47L955.13 426.99L957.5 429.49L959.87 431.97L962.24 434.42L964.61 436.84L966.98 439.25L969.35 441.62L971.73 443.98L974.1 446.3L976.47 448.61L978.84 450.89L981.21 453.14L983.58 455.37L985.95 457.58L988.32 459.76L990.7 461.92L993.07 464.05L995.44 466.16L997.81 468.24L1000.18 470.3L1002.55 472.34L1004.92 474.35L1007.29 476.33L1009.67 478.29L1012.04 480.23L1014.41 482.14L1016.78 484.03L1019.15 485.89L1021.52 487.73L1023.89 489.54L1026.27 491.33L1028.64 493.1L1031.01 494.84L1033.38 496.55L1035.75 498.24L1038.12 499.91L1040.49 501.55L1042.86 503.17L1045.24 504.76L1047.61 506.33L1049.98 507.88L1052.35 509.4L1054.72 510.89L1057.09 512.36L1059.46 513.81L1061.84 515.23L1064.21 516.63L1066.58 518L1068.95 519.35L1071.32 520.67L1073.69 521.97L1076.06 523.25L1078.43 524.5L1080.81 525.72L1083.18 526.92L1085.55 528.1L1087.92 529.25L1090.29 530.38L1092.66 531.48L1095.03 532.56L1097.4 533.61L1099.78 534.64L1102.15 535.65L1104.52 536.63L1106.89 537.58L1109.26 538.52L1111.63 539.42L1114 540.3L1116.38 541.16L1118.75 542L1121.12 542.81L1123.49 543.59L1125.86 544.35L1128.23 545.08L1130.6 545.8L1132.97 546.48L1135.35 547.14L1137.72 547.78L1140.09 548.39L1142.46 548.98L1144.83 549.55L1147.2 550.08L1149.57 550.6L1151.94 551.09L1154.32 551.56L1156.69 552L1159.06 552.41L1161.43 552.81L1163.8 553.17L1166.17 553.52L1168.54 553.84L1170.91 554.13L1173.29 554.4L1175.66 554.64L1178.03 554.86L1180.4 555.06L1182.77 555.23L1185.14 555.38L1187.51 555.5L1189.89 555.6L1192.26 555.67L1194.63 555.72L1197 555.75L1199.37 555.75L1201.74 555.72L1204.11 555.67L1206.48 555.6L1208.86 555.5L1211.23 555.38L1213.6 555.23L1215.97 555.06L1218.34 554.86L1220.71 554.64L1223.08 554.4L1225.45 554.13L1227.83 553.84L1230.2 553.52L1232.57 553.17L1234.94 552.81L1237.31 552.41L1239.68 552L1242.05 551.56L1244.43 551.09L1246.8 550.6L1249.17 550.08L1251.54 549.55L1253.91 548.98L1256.28 548.39L1258.65 547.78L1261.02 547.14L1263.4 546.48L1265.77 545.8L1268.14 545.08L1270.51 544.35L1272.88 543.59L1275.25 542.81L1277.62 542L1279.99 541.16L1282.37 540.3L1284.74 539.42L1287.11 538.52L1289.48 537.58L1291.85 536.63L1294.22 535.65L1296.59 534.64L1298.97 533.61L1301.34 532.56L1303.71 531.48L1306.08 530.38L1308.45 529.25L1310.82 528.1L1313.19 526.92L1315.56 525.72L1317.94 524.5L1320.31 523.25L1322.68 521.97L1325.05 520.67L1327.42 519.35L1329.79 518L1332.16 516.63L1334.53 515.23L1336.91 513.81L1339.28 512.36L1341.65 510.89L1344.02 509.4L1346.39 507.88L1348.76 506.33L1351.13 504.76L1353.51 503.17L1355.88 501.55L1358.25 499.91L1360.62 498.24L1362.99 496.55L1365.36 494.84L1367.73 493.1L1370.1 491.33L1372.48 489.54L1374.85 487.73L1377.22 485.89L1379.59 484.03L1381.96 482.14L1384.33 480.23L1386.7 478.29L1389.08 476.33L1391.45 474.35L1393.82 472.34L1396.19 470.3L1398.56 468.24L1400.93 466.16L1403.3 464.05L1405.67 461.92L1408.05 459.76L1410.42 457.58L1412.79 455.37L1415.16 453.14L1417.53 450.89L1419.9 448.61L1422.27 446.3L1424.64 443.98L1427.02 441.62L1429.39 439.25L1431.76 436.84L1434.13 434.42L1436.5 431.97L1438.87 429.49L1441.24 426.99L1443.61 424.47L1445.99 421.92L1448.36 419.34L1450.73 416.74L1453.1 414.12L1455.47 411.47L1457.84 408.8L1460.21 406.11L1462.59 403.39L1464.96 400.64L1467.33 397.87L1469.7 395.08L1472.07 392.26L1474.44 389.41L1476.81 386.55L1479.18 383.65L1481.56 380.74L1483.93 377.8L1486.3 374.83L1488.67 371.84L1491.04 368.83L1493.41 365.79L1495.78 362.72L1498.15 359.63L1500.53 356.52L1502.9 353.38L1505.27 350.22L1507.64 347.03L1510.01 343.82L1512.38 340.59L1514.75 337.33L1517.13 334.04L1519.5 330.73L1521.87 327.4L1524.24 324.04L1526.61 320.66L1528.98 317.25L1531.35 313.82L1533.72 310.37L1536.1 306.89L1538.47 303.38L1540.84 299.85L1543.21 296.3L1545.58 292.72L1547.95 289.11L1550.32 285.49L1552.69 281.84" fill="none" stroke="#7c3aed" stroke-opacity="0.5" stroke-width="2.5" stroke-dasharray="9.25,4" clip-path="url(#c1)"/>
<path d="M843.67 160.1L846.05 161.72L848.42 163.35L850.79 164.98L853.16 166.61L855.53 168.24L857.9 169.87L860.27 171.5L862.65 173.12L865.02 174.75L867.39 176.38L869.76 178.01L872.13 179.64L874.5 181.27L876.87 182.9L879.24 184.52L881.62 186.15L883.99 187.78L886.36 189.41L888.73 191.04L891.1 192.67L893.47 194.3L895.84 195.92L898.21 197.55L900.59 199.18L902.96 200.81L905.33 202.44L907.7 204.07L910.07 205.7L912.44 207.33L914.81 208.95L917.19 210.58L919.56 212.21L921.93 213.84L924.3 215.47L926.67 217.1L929.04 218.73L931.41 220.35L933.78 221.98L936.16 223.61L938.53 225.24L940.9 226.87L943.27 228.5L945.64 230.13L948.01 231.75L950.38 233.38L952.75 235.01L955.13 236.64L957.5 238.27L959.87 239.9L962.24 241.53L964.61 243.16L966.98 244.78L969.35 246.41L971.73 248.04L974.1 249.67L976.47 251.3L978.84 252.93L981.21 254.56L983.58 256.18L985.95 257.81L988.32 259.44L990.7 261.07L993.07 262.7L995.44 264.33L997.81 265.96L1000.18 267.58L1002.55 269.21L1004.92 270.84L1007.29 272.47L1009.67 274.1L1012.04 275.73L1014.41 277.36L1016.78 278.98L1019.15 280.61L1021.52 282.24L1023.89 283.87L1026.27 285.5L1028.64 287.13L1031.01 288.76L1033.38 290.39L1035.75 292.01L1038.12 293.64L1040.49 295.27L1042.86 296.9L1045.24 298.53L1047.61 300.16L1049.98 301.79L1052.35 303.41L1054.72 305.04L1057.09 306.67L1059.46 308.3L1061.84 309.93L1064.21 311.56L1066.58 313.19L1068.95 314.81L1071.32 316.44L1073.69 318.07L1076.06 319.7L1078.43 321.33L1080.81 322.96L1083.18 324.59L1085.55 326.22L1087.92 327.84L1090.29 329.47L1092.66 331.1L1095.03 332.73L1097.4 334.36L1099.78 335.99L1102.15 337.62L1104.52 339.24L1106.89 340.87L1109.26 342.5L1111.63 344.13L1114 345.76L1116.38 347.39L1118.75 349.02L1121.12 350.64L1123.49 352.27L1125.86 353.9L1128.23 355.53L1130.6 357.16L1132.97 358.79L1135.35 360.42L1137.72 362.04L1140.09 363.67L1142.46 365.3L1144.83 366.93L1147.2 368.56L1149.57 370.19L1151.94 371.82L1154.32 371.68L1156.69 370.66L1159.06 369.65L1161.43 368.63L1163.8 367.61L1166.17 366.59L1168.54 365.57L1170.91 364.56L1173.29 363.54L1175.66 362.52L1178.03 361.5L1180.4 360.48L1182.77 359.47L1185.14 358.45L1187.51 357.43L1189.89 356.41L1192.26 355.39L1194.63 354.38L1197 353.36L1199.37 352.34L1201.74 351.32L1204.11 350.31L1206.48 349.29L1208.86 348.27L1211.23 347.25L1213.6 346.23L1215.97 345.22L1218.34 344.2L1220.71 343.18L1223.08 342.16L1225.45 341.14L1227.83 340.13L1230.2 339.11L1232.57 338.09L1234.94 337.07L1237.31 336.05L1239.68 335.04L1242.05 334.02L1244.43 333L1246.8 331.98L1249.17 330.97L1251.54 329.95L1253.91 328.93L1256.28 327.91L1258.65 326.89L1261.02 325.88L1263.4 324.86L1265.77 323.84L1268.14 322.82L1270.51 321.8L1272.88 320.79L1275.25 319.77L1277.62 318.75L1279.99 317.73L1282.37 316.71L1284.74 315.7L1287.11 314.68L1289.48 313.66L1291.85 312.64L1294.22 311.63L1296.59 310.61L1298.97 309.59L1301.34 308.57L1303.71 307.55L1306.08 306.54L1308.45 305.52L1310.82 304.5L1313.19 303.48L1315.56 302.46L1317.94 301.45L1320.31 300.43L1322.68 299.41L1325.05 298.39L1327.42 297.37L1329.79 296.36L1332.16 295.34L1334.53 294.32L1336.91 293.3L1339.28 292.29L1341.65 291.27L1344.02 290.25L1346.39 289.23L1348.76 288.21L1351.13 287.2L1353.51 286.18L1355.88 285.16L1358.25 284.14L1360.62 283.12L1362.99 282.11L1365.36 281.09L1367.73 280.07L1370.1 279.05L1372.48 278.03L1374.85 277.02L1377.22 276L1379.59 274.98L1381.96 273.96L1384.33 272.95L1386.7 271.93L1389.08 270.91L1391.45 269.89L1393.82 268.87L1396.19 267.86L1398.56 266.84L1400.93 265.82L1403.3 264.8L1405.67 263.78L1408.05 262.77L1410.42 261.75L1412.79 260.73L1415.16 259.71L1417.53 258.69L1419.9 257.68L1422.27 256.66L1424.64 255.64L1427.02 254.62L1429.39 253.61L1431.76 252.59L1434.13 251.57L1436.5 250.55L1438.87 249.53L1441.24 248.52L1443.61 247.5L1445.99 246.48L1448.36 245.46L1450.73 244.44L1453.1 243.43L1455.47 242.41L1457.84 241.39L1460.21 240.37L1462.59 239.35L1464.96 238.34L1467.33 237.32L1469.7 236.3L1472.07 235.28L1474.44 234.27L1476.81 233.25L1479.18 232.23L1481.56 231.21L1483.93 230.19L1486.3 229.18L1488.67 228.16L1491.04 227.14L1493.41 226.12L1495.78 225.1L1498.15 224.09L1500.53 223.07L1502.9 222.05L1505.27 221.03L1507.64 220.01L1510.01 219L1512.38 217.98L1514.75 216.96L1517.13 215.94L1519.5 214.93L1521.87 213.91L1524.24 212.89L1526.61 211.87L1528.98 210.85L1531.35 209.84L1533.72 208.82L1536.1 207.8L1538.47 206.78L1540.84 205.76L1543.21 204.75L1545.58 203.73L1547.95 202.71L1550.32 201.69L1552.69 200.68" fill="none" stroke="#dc2626" stroke-width="5.208" stroke-linecap="square" clip-path="url(#c1)"/>
<rect x="843.167" y="48.167" width="1.667" height="609.667" fill="#000000"/>
<rect x="843.167" y="656.167" width="710.667" height="1.667" fill="#000000"/>
<text x="952.33" y="36" font-size="26.75" font-weight="bold" textLength="489.75" lengthAdjust="spacingAndGlyphs">Pointwise max of convex functions</text>
<path d="M1115 168L1281 168Q1284 168 1284 165L1284 59Q1284 56 1281 56L1115 56Q1112 56 1112 59L1112 165Q1112 168 1115 168Z" fill="#ffffff" fill-opacity="0.8" stroke="#cccccc" stroke-opacity="0.8" stroke-width="2.083" stroke-linejoin="miter"/>
<path d="M1118 71L1132 71L1147 71" fill="none" stroke="#2563eb" stroke-opacity="0.5" stroke-width="2.5" stroke-dasharray="9.25,4"/>
<g transform="translate(1159 63)">
<text x="1.44" y="13" font-size="15.604" font-style="italic" textLength="8.39" lengthAdjust="spacingAndGlyphs">g</text>
<text x="10.34" y="15" font-size="10.923" textLength="5.72" lengthAdjust="spacingAndGlyphs">1</text>
<text x="20.63" y="13" font-size="15.604" textLength="10.97" lengthAdjust="spacingAndGlyphs">=</text>
<text x="35.34" y="13" font-size="15.604" textLength="22.25" lengthAdjust="spacingAndGlyphs">0.5</text>
<text x="58.26" y="13" font-size="15.604" font-style="italic" textLength="8.02" lengthAdjust="spacingAndGlyphs">x</text>
<text x="69.63" y="13" font-size="15.604" textLength="10.97" lengthAdjust="spacingAndGlyphs">+</text>
<text x="85.48" y="13" font-size="15.604" textLength="8.17" lengthAdjust="spacingAndGlyphs">1</text>
</g>
<path d="M1118 97L1132 97L1147 97" fill="none" stroke="#059669" stroke-opacity="0.5" stroke-width="2.5" stroke-dasharray="9.25,4"/>
<g transform="translate(1159 89)">
<text x="1.44" y="13" font-size="15.604" font-style="italic" textLength="8.39" lengthAdjust="spacingAndGlyphs">g</text>
<text x="10.23" y="15" font-size="10.923" textLength="5.77" lengthAdjust="spacingAndGlyphs">2</text>
<text x="20.63" y="13" font-size="15.604" textLength="10.97" lengthAdjust="spacingAndGlyphs">=</text>
<text x="35.68" y="13" font-size="15.604" textLength="34.49" lengthAdjust="spacingAndGlyphs">−0.8</text>
<text x="70.26" y="13" font-size="15.604" font-style="italic" textLength="8.02" lengthAdjust="spacingAndGlyphs">x</text>
<text x="81.63" y="13" font-size="15.604" textLength="10.97" lengthAdjust="spacingAndGlyphs">+</text>
<text x="96.34" y="13" font-size="15.604" textLength="22.25" lengthAdjust="spacingAndGlyphs">0.5</text>
</g>
<path d="M1118 126L1132 126L1147 126" fill="none" stroke="#7c3aed" stroke-opacity="0.5" stroke-width="2.5" stroke-dasharray="9.25,4"/>
<g transform="translate(1159 115)">
<text x="1.44" y="15" font-size="15.604" font-style="italic" textLength="8.39" lengthAdjust="spacingAndGlyphs">g</text>
<text x="10.38" y="18" font-size="10.923" textLength="5.75" lengthAdjust="spacingAndGlyphs">3</text>
<text x="20.63" y="15" font-size="15.604" textLength="10.97" lengthAdjust="spacingAndGlyphs">=</text>
<text x="35.33" y="15" font-size="15.604" textLength="22.4" lengthAdjust="spacingAndGlyphs">0.3</text>
<text x="58.26" y="15" font-size="15.604" font-style="italic" textLength="8.02" lengthAdjust="spacingAndGlyphs">x</text>
<text x="67.23" y="9" font-size="10.923" textLength="5.77" lengthAdjust="spacingAndGlyphs">2</text>
<text x="77.62" y="15" font-size="15.604" textLength="10.97" lengthAdjust="spacingAndGlyphs">−</text>
<text x="92.48" y="15" font-size="15.604" textLength="8.17" lengthAdjust="spacingAndGlyphs">1</text>
</g>
<path d="M1118.5 152.5L1132.5 152.5L1147.5 152.5" fill="none" stroke="#dc2626" stroke-width="5.208" stroke-linecap="square"/>
<g transform="translate(1159 144)">
<text x="1.24" y="13" font-size="15.604" textLength="36.15" lengthAdjust="spacingAndGlyphs">max(</text>
<text x="38.44" y="13" font-size="15.604" font-style="italic" textLength="8.39" lengthAdjust="spacingAndGlyphs">g</text>
<text x="47.34" y="15" font-size="10.923" textLength="5.72" lengthAdjust="spacingAndGlyphs">1</text>
<text x="53.22" y="13" font-size="15.604" textLength="5.91" lengthAdjust="spacingAndGlyphs">,</text>
<text x="62.44" y="13" font-size="15.604" font-style="italic" textLength="8.39" lengthAdjust="spacingAndGlyphs">g</text>
<text x="71.23" y="15" font-size="10.923" textLength="5.77" lengthAdjust="spacingAndGlyphs">2</text>
<text x="77.22" y="13" font-size="15.604" textLength="5.91" lengthAdjust="spacingAndGlyphs">,</text>
<text x="86.44" y="13" font-size="15.604" font-style="italic" textLength="8.39" lengthAdjust="spacingAndGlyphs">g</text>
<text x="95.38" y="15" font-size="10.923" textLength="5.75" lengthAdjust="spacingAndGlyphs">3</text>
<text x="103.1" y="13" font-size="15.604" textLength="4.11" lengthAdjust="spacingAndGlyphs">)</text>
</g>
<path d="M1644 657L1644 664" fill="#000000" stroke="#000000" stroke-width="1.667"/>
<text x="1628.09" y="688" font-size="22.292" textLength="32.18" lengthAdjust="spacingAndGlyphs">0.0</text>
<path d="M1763 657L1763 664" fill="#000000" stroke="#000000" stroke-width="1.667"/>
<text x="1746.1" y="688" font-size="22.292" textLength="31.79" lengthAdjust="spacingAndGlyphs">0.5</text>
<path d="M1881 657L1881 664" fill="#000000" stroke="#000000" stroke-width="1.667"/>
<text x="1865.22" y="688" font-size="22.292" textLength="32.12" lengthAdjust="spacingAndGlyphs">1.0</text>
<path d="M1999 657L1999 664" fill="#000000" stroke="#000000" stroke-width="1.667"/>
<text x="1983.24" y="688" font-size="22.292" textLength="31.72" lengthAdjust="spacingAndGlyphs">1.5</text>
<path d="M2117 657L2117 664" fill="#000000" stroke="#000000" stroke-width="1.667"/>
<text x="2100.86" y="688" font-size="22.292" textLength="32.3" lengthAdjust="spacingAndGlyphs">2.0</text>
<path d="M2235 657L2235 664" fill="#000000" stroke="#000000" stroke-width="1.667"/>
<text x="2218.87" y="688" font-size="22.292" textLength="31.9" lengthAdjust="spacingAndGlyphs">2.5</text>
<path d="M2353 657L2353 664" fill="#000000" stroke="#000000" stroke-width="1.667"/>
<text x="2338.09" y="688" font-size="22.292" textLength="31.93" lengthAdjust="spacingAndGlyphs">3.0</text>
<g transform="translate(1991 703)">
<text x="1.38" y="13" font-size="22.292" font-style="italic" textLength="11.45" lengthAdjust="spacingAndGlyphs">x</text>
</g>
<path d="M1644 657L1637 657" fill="#000000" stroke="#000000" stroke-width="1.667"/>
<text x="1617.14" y="665" font-size="22.292" textLength="12.21" lengthAdjust="spacingAndGlyphs">0</text>
<path d="M1644 581L1637 581" fill="#000000" stroke="#000000" stroke-width="1.667"/>
<text x="1617.38" y="589" font-size="22.292" textLength="11.67" lengthAdjust="spacingAndGlyphs">1</text>
<path d="M1644 505L1637 505" fill="#000000" stroke="#000000" stroke-width="1.667"/>
<text x="1616.96" y="513" font-size="22.292" textLength="11.77" lengthAdjust="spacingAndGlyphs">2</text>
<path d="M1644 429L1637 429" fill="#000000" stroke="#000000" stroke-width="1.667"/>
<text x="1617.16" y="437" font-size="22.292" textLength="11.73" lengthAdjust="spacingAndGlyphs">3</text>
<path d="M1644 353L1637 353" fill="#000000" stroke="#000000" stroke-width="1.667"/>
<text x="1617.51" y="361" font-size="22.292" textLength="12.22" lengthAdjust="spacingAndGlyphs">4</text>
<path d="M1644 277L1637 277" fill="#000000" stroke="#000000" stroke-width="1.667"/>
<text x="1617.15" y="285" font-size="22.292" textLength="11.53" lengthAdjust="spacingAndGlyphs">5</text>
<path d="M1644 201L1637 201" fill="#000000" stroke="#000000" stroke-width="1.667"/>
<text x="1616.8" y="209" font-size="22.292" textLength="12.64" lengthAdjust="spacingAndGlyphs">6</text>
<path d="M1644 125L1637 125" fill="#000000" stroke="#000000" stroke-width="1.667"/>
<text x="1616.86" y="133" font-size="22.292" textLength="11.95" lengthAdjust="spacingAndGlyphs">7</text>
<path d="M1644 49L1637 49" fill="#000000" stroke="#000000" stroke-width="1.667"/>
<text x="1617.07" y="56" font-size="22.292" textLength="12.35" lengthAdjust="spacingAndGlyphs">8</text>
<g transform="translate(1581 375) rotate(-90)">
<text x="1.38" y="21" font-size="22.292" font-style="italic" textLength="11.45" lengthAdjust="spacingAndGlyphs">x</text>
<text x="14.32" y="13" font-size="15.604" textLength="8.24" lengthAdjust="spacingAndGlyphs">2</text>
<text x="24" y="21" font-size="22.292" textLength="7.02" lengthAdjust="spacingAndGlyphs">/</text>
<text x="31.06" y="21" font-size="22.292" font-style="italic" textLength="7.78" lengthAdjust="spacingAndGlyphs">t</text>
</g>
<path d="M1644.45 657.2L1646.82 657.18L1649.19 657.14L1651.56 657.06L1653.94 656.95L1656.31 656.82L1658.68 656.65L1661.05 656.45L1663.42 656.22L1665.79 655.96L1668.16 655.67L1670.53 655.35L1672.91 654.99L1675.28 654.61L1677.65 654.2L1680.02 653.75L1682.39 653.28L1684.76 652.77L1687.13 652.24L1689.5 651.67L1691.88 651.07L1694.25 650.44L1696.62 649.79L1698.99 649.1L1701.36 648.38L1703.73 647.63L1706.1 646.84L1708.48 646.03L1710.85 645.19L1713.22 644.32L1715.59 643.41L1717.96 642.48L1720.33 641.51L1722.7 640.52L1725.07 639.49L1727.45 638.43L1729.82 637.35L1732.19 636.23L1734.56 635.08L1736.93 633.9L1739.3 632.69L1741.67 631.45L1744.04 630.18L1746.42 628.87L1748.79 627.54L1751.16 626.18L1753.53 624.78L1755.9 623.36L1758.27 621.9L1760.64 620.42L1763.02 618.9L1765.39 617.35L1767.76 615.78L1770.13 614.17L1772.5 612.53L1774.87 610.86L1777.24 609.16L1779.61 607.43L1781.99 605.67L1784.36 603.87L1786.73 602.05L1789.1 600.2L1791.47 598.31L1793.84 596.4L1796.21 594.45L1798.58 592.48L1800.96 590.47L1803.33 588.43L1805.7 586.36L1808.07 584.26L1810.44 582.13L1812.81 579.97L1815.18 577.78L1817.56 575.56L1819.93 573.31L1822.3 571.03L1824.67 568.71L1827.04 566.37L1829.41 564L1831.78 561.59L1834.15 559.16L1836.53 556.69L1838.9 554.19L1841.27 551.66L1843.64 549.11L1846.01 546.52L1848.38 543.9L1850.75 541.25L1853.12 538.57L1855.5 535.85L1857.87 533.11L1860.24 530.34L1862.61 527.54L1864.98 524.7L1867.35 521.84L1869.72 518.94L1872.1 516.02L1874.47 513.06L1876.84 510.07L1879.21 507.05L1881.58 504.01L1883.95 500.93L1886.32 497.82L1888.69 494.68L1891.07 491.5L1893.44 488.3L1895.81 485.07L1898.18 481.81L1900.55 478.51L1902.92 475.19L1905.29 471.83L1907.66 468.45L1910.04 465.03L1912.41 461.59L1914.78 458.11L1917.15 454.6L1919.52 451.06L1921.89 447.49L1924.26 443.89L1926.64 440.26L1929.01 436.6L1931.38 432.91L1933.75 429.19L1936.12 425.43L1938.49 421.65L1940.86 417.83L1943.23 413.99L1945.61 410.11L1947.98 406.21L1950.35 402.27L1952.72 398.3L1955.09 394.3L1957.46 390.27L1959.83 386.21L1962.2 382.12L1964.58 378L1966.95 373.85L1969.32 369.67L1971.69 365.46L1974.06 361.21L1976.43 356.94L1978.8 352.63L1981.18 348.3L1983.55 343.93L1985.92 339.54L1988.29 335.11L1990.66 330.65L1993.03 326.16L1995.4 321.64L1997.77 317.09L2000.15 312.51L2002.52 307.9L2004.89 303.26L2007.26 298.59L2009.63 293.88L2012 289.15L2014.37 284.39L2016.74 279.59L2019.12 274.77L2021.49 269.91L2023.86 265.02L2026.23 260.1L2028.6 255.16L2030.97 250.18L2033.34 245.17L2035.72 240.13L2038.09 235.06L2040.46 229.96L2042.83 224.82L2045.2 219.66L2047.57 214.47L2049.94 209.24L2052.31 203.99L2054.69 198.7L2057.06 193.39L2059.43 188.04L2061.8 182.66L2064.17 177.26L2066.54 171.82L2068.91 166.35L2071.28 160.85L2073.66 155.32L2076.03 149.76L2078.4 144.17L2080.77 138.54L2083.14 132.89L2085.51 127.21L2087.88 121.49L2090.26 115.75L2092.63 109.97L2095 104.17L2097.37 98.33L2099.74 92.46L2102.11 86.57L2104.48 80.64L2106.85 74.68L2109.23 68.69L2111.6 62.67L2113.97 56.62L2116.34 50.53L2118.71 44.42L2121.08 38.28L2123.45 32.1L2125.82 25.9L2128.2 19.67L2130.57 13.4L2132.94 7.1L2135.31 0.78L2137.68 -5.58L2140.05 -11.97L2142.42 -18.39L2144.8 -24.84L2147.17 -31.32L2149.54 -37.83L2151.91 -44.37L2154.28 -50.94L2156.65 -57.54L2159.02 -64.18L2161.39 -70.84L2163.77 -77.54L2166.14 -84.26L2168.51 -91.02L2170.88 -97.8L2173.25 -104.62L2175.62 -111.47L2177.99 -118.35L2180.36 -125.26L2182.74 -132.2L2185.11 -139.17L2187.48 -146.17L2189.85 -153.2L2192.22 -160.26L2194.59 -167.35L2196.96 -174.48L2199.34 -181.63L2201.71 -188.82L2204.08 -196.03L2206.45 -203.28L2208.82 -210.56L2211.19 -217.86L2213.56 -225.2L2215.93 -232.57L2218.31 -239.97L2220.68 -247.4L2223.05 -254.86L2225.42 -262.35L2227.79 -269.87L2230.16 -277.42L2232.53 -285.01L2234.9 -292.62L2237.28 -300.27L2239.65 -307.94L2242.02 -315.65L2244.39 -323.38L2246.76 -331.15L2249.13 -338.95L2251.5 -346.78L2253.88 -354.63L2256.25 -362.52L2258.62 -370.44L2260.99 -378.4L2263.36 -386.38L2265.73 -394.39L2268.1 -402.43L2270.47 -410.51L2272.85 -418.61L2275.22 -426.74L2277.59 -434.91L2279.96 -443.1L2282.33 -451.33L2284.7 -459.59L2287.07 -467.88L2289.44 -476.19L2291.82 -484.54L2294.19 -492.92L2296.56 -501.33L2298.93 -509.78L2301.3 -518.25L2303.67 -526.75L2306.04 -535.28L2308.42 -543.85L2310.79 -552.44L2313.16 -561.06L2315.53 -569.72L2317.9 -578.41L2320.27 -587.12L2322.64 -595.87L2325.01 -604.65L2327.39 -613.46L2329.76 -622.3L2332.13 -631.17L2334.5 -640.07L2336.87 -649L2339.24 -657.96L2341.61 -666.95L2343.98 -675.98L2346.36 -685.03L2348.73 -694.11L2351.1 -703.23L2353.47 -712.38" fill="none" stroke="#dc2626" stroke-opacity="0.6" stroke-width="3.125" stroke-linecap="square" clip-path="url(#c2)"/>
<path d="M1644.45 657.2L1646.82 657.19L1649.19 657.17L1651.56 657.13L1653.94 657.08L1656.31 657.01L1658.68 656.92L1661.05 656.82L1663.42 656.71L1665.79 656.58L1668.16 656.43L1670.53 656.27L1672.91 656.1L1675.28 655.91L1677.65 655.7L1680.02 655.48L1682.39 655.24L1684.76 654.99L1687.13 654.72L1689.5 654.43L1691.88 654.14L1694.25 653.82L1696.62 653.49L1698.99 653.15L1701.36 652.79L1703.73 652.41L1706.1 652.02L1708.48 651.62L1710.85 651.19L1713.22 650.76L1715.59 650.31L1717.96 649.84L1720.33 649.36L1722.7 648.86L1725.07 648.35L1727.45 647.82L1729.82 647.27L1732.19 646.71L1734.56 646.14L1736.93 645.55L1739.3 644.94L1741.67 644.32L1744.04 643.69L1746.42 643.04L1748.79 642.37L1751.16 641.69L1753.53 640.99L1755.9 640.28L1758.27 639.55L1760.64 638.81L1763.02 638.05L1765.39 637.28L1767.76 636.49L1770.13 635.68L1772.5 634.86L1774.87 634.03L1777.24 633.18L1779.61 632.31L1781.99 631.43L1784.36 630.54L1786.73 629.62L1789.1 628.7L1791.47 627.76L1793.84 626.8L1796.21 625.83L1798.58 624.84L1800.96 623.83L1803.33 622.82L1805.7 621.78L1808.07 620.73L1810.44 619.67L1812.81 618.59L1815.18 617.49L1817.56 616.38L1819.93 615.26L1822.3 614.11L1824.67 612.96L1827.04 611.79L1829.41 610.6L1831.78 609.4L1834.15 608.18L1836.53 606.94L1838.9 605.7L1841.27 604.43L1843.64 603.15L1846.01 601.86L1848.38 600.55L1850.75 599.22L1853.12 597.88L1855.5 596.53L1857.87 595.16L1860.24 593.77L1862.61 592.37L1864.98 590.95L1867.35 589.52L1869.72 588.07L1872.1 586.61L1874.47 585.13L1876.84 583.64L1879.21 582.13L1881.58 580.6L1883.95 579.06L1886.32 577.51L1888.69 575.94L1891.07 574.35L1893.44 572.75L1895.81 571.14L1898.18 569.5L1900.55 567.86L1902.92 566.19L1905.29 564.52L1907.66 562.82L1910.04 561.12L1912.41 559.39L1914.78 557.65L1917.15 555.9L1919.52 554.13L1921.89 552.35L1924.26 550.55L1926.64 548.73L1929.01 546.9L1931.38 545.05L1933.75 543.19L1936.12 541.32L1938.49 539.42L1940.86 537.52L1943.23 535.59L1945.61 533.66L1947.98 531.7L1950.35 529.73L1952.72 527.75L1955.09 525.75L1957.46 523.74L1959.83 521.71L1962.2 519.66L1964.58 517.6L1966.95 515.53L1969.32 513.43L1971.69 511.33L1974.06 509.21L1976.43 507.07L1978.8 504.92L1981.18 502.75L1983.55 500.57L1985.92 498.37L1988.29 496.15L1990.66 493.93L1993.03 491.68L1995.4 489.42L1997.77 487.15L2000.15 484.86L2002.52 482.55L2004.89 480.23L2007.26 477.89L2009.63 475.54L2012 473.17L2014.37 470.79L2016.74 468.4L2019.12 465.98L2021.49 463.55L2023.86 461.11L2026.23 458.65L2028.6 456.18L2030.97 453.69L2033.34 451.18L2035.72 448.66L2038.09 446.13L2040.46 443.58L2042.83 441.01L2045.2 438.43L2047.57 435.83L2049.94 433.22L2052.31 430.59L2054.69 427.95L2057.06 425.29L2059.43 422.62L2061.8 419.93L2064.17 417.23L2066.54 414.51L2068.91 411.77L2071.28 409.02L2073.66 406.26L2076.03 403.48L2078.4 400.68L2080.77 397.87L2083.14 395.05L2085.51 392.2L2087.88 389.35L2090.26 386.47L2092.63 383.59L2095 380.68L2097.37 377.77L2099.74 374.83L2102.11 371.88L2104.48 368.92L2106.85 365.94L2109.23 362.94L2111.6 359.93L2113.97 356.91L2116.34 353.87L2118.71 350.81L2121.08 347.74L2123.45 344.65L2125.82 341.55L2128.2 338.43L2130.57 335.3L2132.94 332.15L2135.31 328.99L2137.68 325.81L2140.05 322.62L2142.42 319.41L2144.8 316.18L2147.17 312.94L2149.54 309.69L2151.91 306.42L2154.28 303.13L2156.65 299.83L2159.02 296.51L2161.39 293.18L2163.77 289.83L2166.14 286.47L2168.51 283.09L2170.88 279.7L2173.25 276.29L2175.62 272.87L2177.99 269.43L2180.36 265.97L2182.74 262.5L2185.11 259.02L2187.48 255.52L2189.85 252L2192.22 248.47L2194.59 244.92L2196.96 241.36L2199.34 237.78L2201.71 234.19L2204.08 230.58L2206.45 226.96L2208.82 223.32L2211.19 219.67L2213.56 216L2215.93 212.32L2218.31 208.62L2220.68 204.9L2223.05 201.17L2225.42 197.42L2227.79 193.66L2230.16 189.89L2232.53 186.1L2234.9 182.29L2237.28 178.47L2239.65 174.63L2242.02 170.78L2244.39 166.91L2246.76 163.02L2249.13 159.13L2251.5 155.21L2253.88 151.28L2256.25 147.34L2258.62 143.38L2260.99 139.4L2263.36 135.41L2265.73 131.41L2268.1 127.38L2270.47 123.35L2272.85 119.3L2275.22 115.23L2277.59 111.15L2279.96 107.05L2282.33 102.93L2284.7 98.81L2287.07 94.66L2289.44 90.5L2291.82 86.33L2294.19 82.14L2296.56 77.93L2298.93 73.71L2301.3 69.48L2303.67 65.23L2306.04 60.96L2308.42 56.68L2310.79 52.38L2313.16 48.07L2315.53 43.74L2317.9 39.4L2320.27 35.04L2322.64 30.66L2325.01 26.28L2327.39 21.87L2329.76 17.45L2332.13 13.02L2334.5 8.57L2336.87 4.1L2339.24 -0.38L2341.61 -4.88L2343.98 -9.39L2346.36 -13.91L2348.73 -18.46L2351.1 -23.01L2353.47 -27.59" fill="none" stroke="#2563eb" stroke-width="4.167" stroke-linecap="square" clip-path="url(#c2)"/>
<path d="M1644.45 657.2L1646.82 657.2L1649.19 657.18L1651.56 657.17L1653.94 657.14L1656.31 657.1L1658.68 657.06L1661.05 657.01L1663.42 656.95L1665.79 656.89L1668.16 656.82L1670.53 656.74L1672.91 656.65L1675.28 656.55L1677.65 656.45L1680.02 656.34L1682.39 656.22L1684.76 656.09L1687.13 655.96L1689.5 655.82L1691.88 655.67L1694.25 655.51L1696.62 655.35L1698.99 655.17L1701.36 654.99L1703.73 654.81L1706.1 654.61L1708.48 654.41L1710.85 654.2L1713.22 653.98L1715.59 653.75L1717.96 653.52L1720.33 653.28L1722.7 653.03L1725.07 652.77L1727.45 652.51L1729.82 652.24L1732.19 651.96L1734.56 651.67L1736.93 651.37L1739.3 651.07L1741.67 650.76L1744.04 650.44L1746.42 650.12L1748.79 649.79L1751.16 649.44L1753.53 649.1L1755.9 648.74L1758.27 648.38L1760.64 648L1763.02 647.63L1765.39 647.24L1767.76 646.84L1770.13 646.44L1772.5 646.03L1774.87 645.61L1777.24 645.19L1779.61 644.76L1781.99 644.32L1784.36 643.87L1786.73 643.41L1789.1 642.95L1791.47 642.48L1793.84 642L1796.21 641.51L1798.58 641.02L1800.96 640.52L1803.33 640.01L1805.7 639.49L1808.07 638.97L1810.44 638.43L1812.81 637.89L1815.18 637.35L1817.56 636.79L1819.93 636.23L1822.3 635.66L1824.67 635.08L1827.04 634.49L1829.41 633.9L1831.78 633.3L1834.15 632.69L1836.53 632.07L1838.9 631.45L1841.27 630.82L1843.64 630.18L1846.01 629.53L1848.38 628.87L1850.75 628.21L1853.12 627.54L1855.5 626.86L1857.87 626.18L1860.24 625.48L1862.61 624.78L1864.98 624.08L1867.35 623.36L1869.72 622.64L1872.1 621.9L1874.47 621.16L1876.84 620.42L1879.21 619.66L1881.58 618.9L1883.95 618.13L1886.32 617.35L1888.69 616.57L1891.07 615.78L1893.44 614.98L1895.81 614.17L1898.18 613.35L1900.55 612.53L1902.92 611.7L1905.29 610.86L1907.66 610.01L1910.04 609.16L1912.41 608.3L1914.78 607.43L1917.15 606.55L1919.52 605.67L1921.89 604.77L1924.26 603.87L1926.64 602.97L1929.01 602.05L1931.38 601.13L1933.75 600.2L1936.12 599.26L1938.49 598.31L1940.86 597.36L1943.23 596.4L1945.61 595.43L1947.98 594.45L1950.35 593.47L1952.72 592.48L1955.09 591.48L1957.46 590.47L1959.83 589.45L1962.2 588.43L1964.58 587.4L1966.95 586.36L1969.32 585.32L1971.69 584.26L1974.06 583.2L1976.43 582.13L1978.8 581.06L1981.18 579.97L1983.55 578.88L1985.92 577.78L1988.29 576.68L1990.66 575.56L1993.03 574.44L1995.4 573.31L1997.77 572.17L2000.15 571.03L2002.52 569.88L2004.89 568.71L2007.26 567.55L2009.63 566.37L2012 565.19L2014.37 564L2016.74 562.8L2019.12 561.59L2021.49 560.38L2023.86 559.16L2026.23 557.93L2028.6 556.69L2030.97 555.44L2033.34 554.19L2035.72 552.93L2038.09 551.66L2040.46 550.39L2042.83 549.11L2045.2 547.82L2047.57 546.52L2049.94 545.21L2052.31 543.9L2054.69 542.58L2057.06 541.25L2059.43 539.91L2061.8 538.57L2064.17 537.21L2066.54 535.85L2068.91 534.49L2071.28 533.11L2073.66 531.73L2076.03 530.34L2078.4 528.94L2080.77 527.54L2083.14 526.12L2085.51 524.7L2087.88 523.27L2090.26 521.84L2092.63 520.39L2095 518.94L2097.37 517.48L2099.74 516.02L2102.11 514.54L2104.48 513.06L2106.85 511.57L2109.23 510.07L2111.6 508.57L2113.97 507.05L2116.34 505.53L2118.71 504.01L2121.08 502.47L2123.45 500.93L2125.82 499.38L2128.2 497.82L2130.57 496.25L2132.94 494.68L2135.31 493.09L2137.68 491.5L2140.05 489.91L2142.42 488.3L2144.8 486.69L2147.17 485.07L2149.54 483.44L2151.91 481.81L2154.28 480.16L2156.65 478.51L2159.02 476.86L2161.39 475.19L2163.77 473.52L2166.14 471.83L2168.51 470.15L2170.88 468.45L2173.25 466.74L2175.62 465.03L2177.99 463.31L2180.36 461.59L2182.74 459.85L2185.11 458.11L2187.48 456.36L2189.85 454.6L2192.22 452.83L2194.59 451.06L2196.96 449.28L2199.34 447.49L2201.71 445.7L2204.08 443.89L2206.45 442.08L2208.82 440.26L2211.19 438.43L2213.56 436.6L2215.93 434.76L2218.31 432.91L2220.68 431.05L2223.05 429.19L2225.42 427.31L2227.79 425.43L2230.16 423.54L2232.53 421.65L2234.9 419.74L2237.28 417.83L2239.65 415.91L2242.02 413.99L2244.39 412.05L2246.76 410.11L2249.13 408.16L2251.5 406.21L2253.88 404.24L2256.25 402.27L2258.62 400.29L2260.99 398.3L2263.36 396.31L2265.73 394.3L2268.1 392.29L2270.47 390.27L2272.85 388.25L2275.22 386.21L2277.59 384.17L2279.96 382.12L2282.33 380.07L2284.7 378L2287.07 375.93L2289.44 373.85L2291.82 371.76L2294.19 369.67L2296.56 367.57L2298.93 365.46L2301.3 363.34L2303.67 361.21L2306.04 359.08L2308.42 356.94L2310.79 354.79L2313.16 352.63L2315.53 350.47L2317.9 348.3L2320.27 346.12L2322.64 343.93L2325.01 341.74L2327.39 339.54L2329.76 337.33L2332.13 335.11L2334.5 332.88L2336.87 330.65L2339.24 328.41L2341.61 326.16L2343.98 323.91L2346.36 321.64L2348.73 319.37L2351.1 317.09L2353.47 314.81" fill="none" stroke="#059669" stroke-opacity="0.6" stroke-width="3.125" stroke-linecap="square" clip-path="url(#c2)"/>
<path d="M1644.45 657.2L1646.82 657.2L1649.19 657.19L1651.56 657.18L1653.94 657.17L1656.31 657.15L1658.68 657.13L1661.05 657.11L1663.42 657.08L1665.79 657.04L1668.16 657.01L1670.53 656.97L1672.91 656.92L1675.28 656.88L1677.65 656.82L1680.02 656.77L1682.39 656.71L1684.76 656.65L1687.13 656.58L1689.5 656.51L1691.88 656.43L1694.25 656.36L1696.62 656.27L1698.99 656.19L1701.36 656.1L1703.73 656L1706.1 655.91L1708.48 655.8L1710.85 655.7L1713.22 655.59L1715.59 655.48L1717.96 655.36L1720.33 655.24L1722.7 655.11L1725.07 654.99L1727.45 654.85L1729.82 654.72L1732.19 654.58L1734.56 654.43L1736.93 654.29L1739.3 654.14L1741.67 653.98L1744.04 653.82L1746.42 653.66L1748.79 653.49L1751.16 653.32L1753.53 653.15L1755.9 652.97L1758.27 652.79L1760.64 652.6L1763.02 652.41L1765.39 652.22L1767.76 652.02L1770.13 651.82L1772.5 651.62L1774.87 651.41L1777.24 651.19L1779.61 650.98L1781.99 650.76L1784.36 650.53L1786.73 650.31L1789.1 650.07L1791.47 649.84L1793.84 649.6L1796.21 649.36L1798.58 649.11L1800.96 648.86L1803.33 648.6L1805.7 648.35L1808.07 648.08L1810.44 647.82L1812.81 647.55L1815.18 647.27L1817.56 647L1819.93 646.71L1822.3 646.43L1824.67 646.14L1827.04 645.85L1829.41 645.55L1831.78 645.25L1834.15 644.94L1836.53 644.64L1838.9 644.32L1841.27 644.01L1843.64 643.69L1846.01 643.36L1848.38 643.04L1850.75 642.71L1853.12 642.37L1855.5 642.03L1857.87 641.69L1860.24 641.34L1862.61 640.99L1864.98 640.64L1867.35 640.28L1869.72 639.92L1872.1 639.55L1874.47 639.18L1876.84 638.81L1879.21 638.43L1881.58 638.05L1883.95 637.67L1886.32 637.28L1888.69 636.88L1891.07 636.49L1893.44 636.09L1895.81 635.68L1898.18 635.28L1900.55 634.86L1902.92 634.45L1905.29 634.03L1907.66 633.61L1910.04 633.18L1912.41 632.75L1914.78 632.31L1917.15 631.88L1919.52 631.43L1921.89 630.99L1924.26 630.54L1926.64 630.08L1929.01 629.62L1931.38 629.16L1933.75 628.7L1936.12 628.23L1938.49 627.76L1940.86 627.28L1943.23 626.8L1945.61 626.31L1947.98 625.83L1950.35 625.33L1952.72 624.84L1955.09 624.34L1957.46 623.83L1959.83 623.33L1962.2 622.82L1964.58 622.3L1966.95 621.78L1969.32 621.26L1971.69 620.73L1974.06 620.2L1976.43 619.67L1978.8 619.13L1981.18 618.59L1983.55 618.04L1985.92 617.49L1988.29 616.94L1990.66 616.38L1993.03 615.82L1995.4 615.26L1997.77 614.69L2000.15 614.11L2002.52 613.54L2004.89 612.96L2007.26 612.37L2009.63 611.79L2012 611.19L2014.37 610.6L2016.74 610L2019.12 609.4L2021.49 608.79L2023.86 608.18L2026.23 607.56L2028.6 606.94L2030.97 606.32L2033.34 605.7L2035.72 605.07L2038.09 604.43L2040.46 603.79L2042.83 603.15L2045.2 602.51L2047.57 601.86L2049.94 601.21L2052.31 600.55L2054.69 599.89L2057.06 599.22L2059.43 598.56L2061.8 597.88L2064.17 597.21L2066.54 596.53L2068.91 595.84L2071.28 595.16L2073.66 594.46L2076.03 593.77L2078.4 593.07L2080.77 592.37L2083.14 591.66L2085.51 590.95L2087.88 590.24L2090.26 589.52L2092.63 588.8L2095 588.07L2097.37 587.34L2099.74 586.61L2102.11 585.87L2104.48 585.13L2106.85 584.38L2109.23 583.64L2111.6 582.88L2113.97 582.13L2116.34 581.37L2118.71 580.6L2121.08 579.83L2123.45 579.06L2125.82 578.29L2128.2 577.51L2130.57 576.72L2132.94 575.94L2135.31 575.15L2137.68 574.35L2140.05 573.55L2142.42 572.75L2144.8 571.95L2147.17 571.14L2149.54 570.32L2151.91 569.5L2154.28 568.68L2156.65 567.86L2159.02 567.03L2161.39 566.19L2163.77 565.36L2166.14 564.52L2168.51 563.67L2170.88 562.82L2173.25 561.97L2175.62 561.12L2177.99 560.26L2180.36 559.39L2182.74 558.53L2185.11 557.65L2187.48 556.78L2189.85 555.9L2192.22 555.02L2194.59 554.13L2196.96 553.24L2199.34 552.35L2201.71 551.45L2204.08 550.55L2206.45 549.64L2208.82 548.73L2211.19 547.82L2213.56 546.9L2215.93 545.98L2218.31 545.05L2220.68 544.13L2223.05 543.19L2225.42 542.26L2227.79 541.32L2230.16 540.37L2232.53 539.42L2234.9 538.47L2237.28 537.52L2239.65 536.56L2242.02 535.59L2244.39 534.63L2246.76 533.66L2249.13 532.68L2251.5 531.7L2253.88 530.72L2256.25 529.73L2258.62 528.74L2260.99 527.75L2263.36 526.75L2265.73 525.75L2268.1 524.75L2270.47 523.74L2272.85 522.72L2275.22 521.71L2277.59 520.69L2279.96 519.66L2282.33 518.63L2284.7 517.6L2287.07 516.57L2289.44 515.53L2291.82 514.48L2294.19 513.43L2296.56 512.38L2298.93 511.33L2301.3 510.27L2303.67 509.21L2306.04 508.14L2308.42 507.07L2310.79 506L2313.16 504.92L2315.53 503.83L2317.9 502.75L2320.27 501.66L2322.64 500.57L2325.01 499.47L2327.39 498.37L2329.76 497.26L2332.13 496.15L2334.5 495.04L2336.87 493.93L2339.24 492.8L2341.61 491.68L2343.98 490.55L2346.36 489.42L2348.73 488.29L2351.1 487.15L2353.47 486" fill="none" stroke="#7c3aed" stroke-opacity="0.6" stroke-width="3.125" stroke-linecap="square" clip-path="url(#c2)"/>
<rect x="1643.167" y="48.167" width="1.667" height="609.667" fill="#000000"/>
<rect x="1643.167" y="656.167" width="710.667" height="1.667" fill="#000000"/>
<g transform="translate(1819 16)">
<text x="1.32" y="20" font-size="26.75" font-weight="bold" textLength="175.65" lengthAdjust="spacingAndGlyphs">Perspective:</text>
<text x="185.76" y="20" font-size="26.75" font-style="italic" textLength="14.38" lengthAdjust="spacingAndGlyphs">g</text>
<text x="201.84" y="20" font-size="26.75" textLength="7.04" lengthAdjust="spacingAndGlyphs">(</text>
<text x="211.45" y="20" font-size="26.75" font-style="italic" textLength="13.74" lengthAdjust="spacingAndGlyphs">x</text>
<text x="224.65" y="20" font-size="26.75" textLength="10.12" lengthAdjust="spacingAndGlyphs">,</text>
<text x="238.07" y="20" font-size="26.75" font-style="italic" textLength="9.33" lengthAdjust="spacingAndGlyphs">t</text>
<text x="249.88" y="20" font-size="26.75" textLength="7.04" lengthAdjust="spacingAndGlyphs">)</text>
<text x="264.08" y="20" font-size="26.75" textLength="18.81" lengthAdjust="spacingAndGlyphs">=</text>
<text x="289.07" y="20" font-size="26.75" font-style="italic" textLength="18.77" lengthAdjust="spacingAndGlyphs">tf</text>
<text x="307.84" y="20" font-size="26.75" textLength="7.04" lengthAdjust="spacingAndGlyphs">(</text>
<text x="317.45" y="20" font-size="26.75" font-style="italic" textLength="13.74" lengthAdjust="spacingAndGlyphs">x</text>
<text x="332" y="20" font-size="26.75" textLength="8.42" lengthAdjust="spacingAndGlyphs">/</text>
<text x="340.07" y="20" font-size="26.75" font-style="italic" textLength="9.33" lengthAdjust="spacingAndGlyphs">t</text>
<text x="351.88" y="20" font-size="26.75" textLength="7.04" lengthAdjust="spacingAndGlyphs">)</text>
</g>
<path d="M1656 171L1844 171Q1847 171 1847 168L1847 60Q1847 57 1844 57L1656 57Q1653 57 1653 60L1653 168Q1653 171 1656 171Z" fill="#ffffff" fill-opacity="0.8" stroke="#cccccc" stroke-opacity="0.8" stroke-width="2.083" stroke-linejoin="miter"/>
<path d="M1659.5 72.5L1676.5 72.5L1693.5 72.5" fill="none" stroke="#dc2626" stroke-opacity="0.6" stroke-width="3.125" stroke-linecap="square"/>
<g transform="translate(1706 64)">
<text x="1.05" y="14" font-size="17.833" font-style="italic" textLength="6.22" lengthAdjust="spacingAndGlyphs">t</text>
<text x="10.72" y="14" font-size="17.833" textLength="12.54" lengthAdjust="spacingAndGlyphs">=</text>
<text x="27.38" y="14" font-size="17.833" textLength="25.43" lengthAdjust="spacingAndGlyphs">0.5</text>
</g>
<path d="M1659 100L1676 100L1693 100" fill="none" stroke="#2563eb" stroke-width="4.167" stroke-linecap="square"/>
<g transform="translate(1706 91)">
<text x="1.05" y="15" font-size="17.833" font-style="italic" textLength="6.22" lengthAdjust="spacingAndGlyphs">t</text>
<text x="10.72" y="15" font-size="17.833" textLength="12.54" lengthAdjust="spacingAndGlyphs">=</text>
<text x="27.37" y="15" font-size="17.833" textLength="106.49" lengthAdjust="spacingAndGlyphs">1.0 (original)</text>
</g>
<path d="M1659.5 128.5L1676.5 128.5L1693.5 128.5" fill="none" stroke="#059669" stroke-opacity="0.6" stroke-width="3.125" stroke-linecap="square"/>
<g transform="translate(1706 120)">
<text x="1.05" y="14" font-size="17.833" font-style="italic" textLength="6.22" lengthAdjust="spacingAndGlyphs">t</text>
<text x="10.72" y="14" font-size="17.833" textLength="12.54" lengthAdjust="spacingAndGlyphs">=</text>
<text x="27.29" y="14" font-size="17.833" textLength="25.84" lengthAdjust="spacingAndGlyphs">2.0</text>
</g>
<path d="M1659.5 155.5L1676.5 155.5L1693.5 155.5" fill="none" stroke="#7c3aed" stroke-opacity="0.6" stroke-width="3.125" stroke-linecap="square"/>
<g transform="translate(1706 146)">
<text x="1.05" y="14" font-size="17.833" font-style="italic" textLength="6.22" lengthAdjust="spacingAndGlyphs">t</text>
<text x="10.72" y="14" font-size="17.833" textLength="12.54" lengthAdjust="spacingAndGlyphs">=</text>
<text x="27.39" y="14" font-size="17.833" textLength="25.73" lengthAdjust="spacingAndGlyphs">4.0</text>
</g>
</svg>
</body></html>
